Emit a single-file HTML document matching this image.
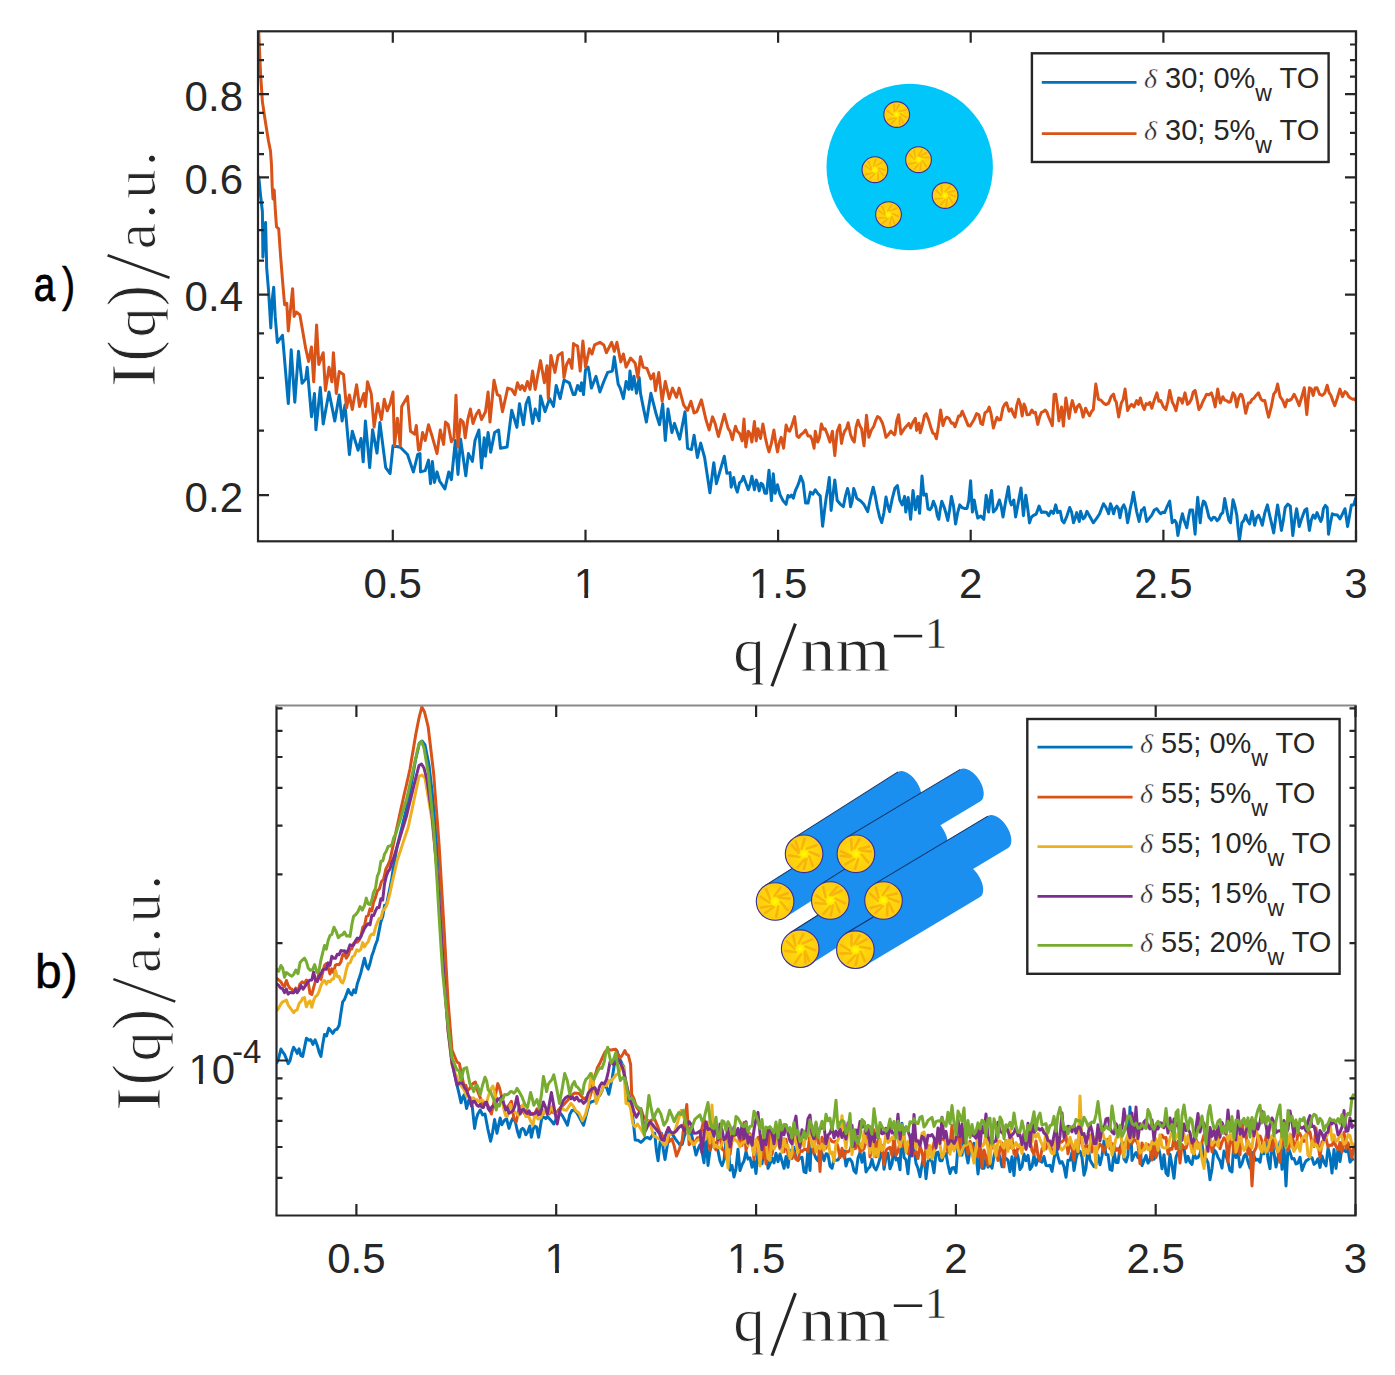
<!DOCTYPE html>
<html><head><meta charset="utf-8"><title>SAXS</title>
<style>
html,body{margin:0;padding:0;background:#fff;overflow:hidden;width:1395px;height:1375px;}
svg{display:block;}
.t{font-family:"Liberation Sans",sans-serif;fill:#262626;}
.s{font-family:"Liberation Serif",serif;fill:#262626;stroke:#fff;stroke-width:0.9px;paint-order:fill;}
.s1{stroke-width:0.3px;}
.p{font-family:"Liberation Sans",sans-serif;fill:#000;}
</style></head><body>
<svg width="1395" height="1375" viewBox="0 0 1395 1375">
<defs>
<radialGradient id="gcore" cx="50%" cy="50%" r="50%">
<stop offset="0" stop-color="#FFF200"/><stop offset="0.55" stop-color="#FFD50A"/><stop offset="1" stop-color="#FCCB12"/>
</radialGradient>
<clipPath id="ca"><rect x="258.0" y="31.3" width="1098.0" height="509.99999999999994"/></clipPath>
<clipPath id="cb"><rect x="276.5" y="705.5" width="1079.0" height="510.0"/></clipPath>
</defs>
<rect width="1395" height="1375" fill="#fff"/>

<!-- ===== plot a ===== -->
<g clip-path="url(#ca)" fill="none" stroke-width="3" stroke-linejoin="round">
<polyline points="257.8,175.5 259.1,180.0 260.5,195.0 262.4,211.5 262.9,257.3 264.2,230.0 265.6,222.4 266.7,268.2 268.5,290.0 270.8,328.0 272.2,300.0 273.7,287.3 275.2,316.4 277.4,342.5 282.5,335.3 288.3,403.6 291.2,349.8 294.8,402.2 298.5,351.3 302.1,383.3 305.7,378.9 307.2,367.3 311.5,416.7 314.5,393.5 315.9,429.8 320.3,387.6 323.2,424.0 329.0,392.0 334.8,421.1 339.2,394.9 342.1,421.1 345.0,405.1 349.4,454.5 352.3,431.3 358.1,450.2 361.0,438.5 363.2,461.8 365.4,421.1 369.7,467.6 372.6,429.8 377.0,453.1 379.9,422.5 385.7,467.6 390.1,473.5 393.0,445.8 400.3,447.3 407.5,454.5 413.4,472.0 417.7,454.5 420.0,453.6 420.5,471.9 425.2,470.6 428.5,460.1 430.5,483.7 432.4,461.4 434.4,482.4 437.0,471.9 439.6,481.0 444.9,488.9 448.8,471.9 451.4,479.7 455.4,440.5 458.0,474.5 460.6,439.2 463.2,457.5 465.8,475.8 468.4,453.6 472.4,461.4 475.0,440.5 478.9,430.0 481.5,468.0 484.2,437.8 485.5,456.2 488.1,432.6 490.7,452.3 494.6,432.6 498.6,430.0 500.5,448.3 507.1,447.0 511.7,410.3 516.9,427.4 519.5,403.8 523.4,424.7 526.1,403.8 528.7,397.3 532.6,423.4 535.2,409.0 539.1,420.8 540.5,395.9 545.0,411.7 549.6,398.6 553.5,406.4 556.2,385.5 560.1,398.6 564.0,380.2 569.3,382.8 573.2,394.6 575.0,394.6 577.6,385.5 580.2,390.7 581.5,382.8 583.5,394.6 585.5,369.8 588.1,367.1 589.4,373.7 591.4,388.1 596.0,376.3 599.9,392.0 603.8,381.5 607.7,372.4 612.3,371.1 614.3,356.7 618.2,384.2 620.2,388.1 623.4,398.6 626.1,381.5 628.7,389.4 630.0,371.1 632.0,389.4 633.9,376.3 636.5,393.3 639.2,377.6 640.5,393.3 643.1,406.4 646.4,422.1 650.9,393.3 656.2,414.3 659.5,424.7 662.7,403.8 665.3,440.5 668.0,409.0 671.9,432.6 674.5,423.4 679.7,439.2 685.0,411.7 687.6,448.3 691.5,449.6 694.1,435.2 697.4,457.5 700.7,443.1 704.6,457.5 709.9,492.8 713.8,462.7 716.4,483.7 724.3,456.2 726.9,473.2 730.0,472.6 731.2,487.2 733.7,477.5 735.5,487.1 737.3,492.1 739.7,482.4 741.5,481.2 743.4,476.3 745.8,482.9 748.3,489.7 750.1,484.6 751.9,476.3 754.4,489.7 756.2,479.9 757.7,483.8 759.2,490.9 761.0,483.3 762.9,484.8 764.8,493.2 766.6,493.3 769.0,470.2 771.4,500.6 773.3,473.8 775.1,493.3 777.5,484.8 780.0,494.6 783.0,500.6 786.1,504.3 787.9,495.5 789.7,497.0 791.5,495.0 793.4,498.2 795.2,491.2 797.0,487.2 798.9,482.6 800.7,476.3 803.1,482.4 805.6,503.1 808.0,503.1 810.4,492.1 812.8,494.2 815.3,489.7 817.8,493.5 820.2,495.8 822.6,526.2 824.5,510.5 826.3,497.0 827.8,488.4 829.3,477.5 831.1,510.4 833.0,494.6 834.8,479.9 837.2,500.6 840.2,504.1 843.3,506.7 845.5,495.9 847.6,488.5 849.1,494.6 850.6,506.7 852.2,500.8 853.7,488.5 855.2,492.6 856.7,498.2 858.5,499.7 860.3,500.6 864.0,504.6 867.7,511.6 870.5,498.0 873.2,487.2 875.4,496.7 877.5,508.0 879.6,516.9 881.7,522.6 883.9,512.8 886.0,497.0 887.8,505.7 889.6,511.6 892.3,498.4 895.0,488.0 897.4,485.6 899.8,500.0 902.2,504.9 904.6,496.4 905.8,512.1 908.2,497.6 910.6,519.3 913.0,490.4 915.4,509.7 917.8,496.4 919.6,513.3 922.0,476.0 923.8,495.2 926.2,494.0 928.0,508.8 929.8,509.7 931.6,507.5 933.4,501.2 935.8,507.3 937.3,515.7 938.8,519.3 940.3,508.9 941.8,501.2 944.2,507.3 946.0,513.3 947.8,520.5 949.6,510.0 951.4,496.4 953.5,505.9 955.6,524.1 957.7,512.6 959.8,504.9 962.2,507.7 964.6,508.5 967.0,508.5 968.8,500.7 970.6,480.8 972.4,512.1 974.2,500.0 976.0,510.1 977.8,518.1 980.8,516.1 983.8,519.3 986.2,495.2 988.6,512.1 990.1,498.2 991.6,490.4 993.4,512.1 996.4,508.5 999.4,500.0 1001.2,506.4 1003.0,516.9 1005.7,501.0 1008.4,486.8 1009.9,500.8 1011.4,504.9 1013.8,500.0 1015.6,516.9 1018.3,502.6 1021.0,488.0 1023.4,515.7 1025.8,495.2 1027.7,508.2 1029.5,522.9 1031.3,517.3 1033.1,515.7 1036.1,514.2 1039.1,506.1 1041.5,512.4 1043.9,512.1 1046.3,512.2 1048.7,515.7 1051.1,511.0 1053.5,513.3 1055.7,504.9 1057.6,512.6 1058.9,511.6 1060.2,511.3 1062.1,520.5 1064.0,522.8 1066.8,516.3 1069.7,507.5 1071.6,512.1 1073.5,522.8 1075.1,518.5 1076.7,512.6 1079.3,521.5 1080.6,511.3 1083.1,518.9 1085.0,517.0 1086.9,511.3 1090.1,517.0 1093.3,522.8 1096.4,518.7 1099.6,513.8 1101.5,508.8 1103.5,503.7 1106.0,507.5 1108.6,513.8 1110.5,503.7 1112.0,507.5 1113.6,513.8 1115.2,508.3 1116.8,506.2 1118.4,508.5 1120.0,517.7 1121.9,508.3 1123.8,504.9 1125.7,509.5 1127.6,522.8 1128.9,516.8 1130.2,508.7 1131.8,501.6 1133.4,492.2 1135.0,501.9 1136.6,511.3 1139.1,521.5 1141.6,510.0 1142.9,509.8 1144.2,507.5 1146.7,521.5 1149.2,518.4 1151.8,515.1 1154.3,510.0 1156.9,508.7 1158.8,511.7 1160.7,513.8 1162.7,512.3 1164.6,512.6 1167.2,506.3 1169.7,501.1 1172.2,522.8 1174.7,520.3 1176.3,522.6 1177.9,535.5 1180.2,523.2 1182.4,513.8 1184.6,521.8 1186.8,527.8 1188.4,517.9 1190.0,510.0 1192.6,510.0 1195.1,534.2 1196.4,513.5 1197.7,497.3 1200.2,522.8 1201.8,507.8 1203.4,501.1 1205.0,502.5 1206.6,507.5 1209.0,517.3 1211.4,520.2 1213.3,517.3 1215.2,517.7 1217.1,520.8 1219.0,518.9 1220.9,514.4 1222.8,512.6 1224.7,498.6 1227.3,512.6 1228.9,520.2 1230.5,522.8 1233.0,499.8 1234.9,506.0 1236.8,515.1 1238.1,528.7 1239.4,540.6 1241.9,522.8 1243.8,520.5 1245.7,515.1 1247.7,521.0 1249.6,524.0 1252.1,511.3 1254.6,525.3 1256.5,517.8 1258.5,515.1 1260.4,519.3 1262.3,525.3 1264.8,512.9 1267.4,504.9 1269.9,516.4 1271.8,524.3 1273.7,532.9 1275.7,518.0 1277.6,504.9 1279.5,517.0 1281.4,530.4 1283.3,520.4 1285.2,507.5 1287.8,504.2 1290.3,506.2 1292.8,535.5 1294.7,520.1 1296.6,508.7 1297.9,516.2 1299.2,526.6 1301.1,520.2 1303.0,515.1 1304.9,509.9 1306.8,508.7 1308.1,520.8 1309.4,530.4 1311.3,520.0 1313.2,515.1 1315.1,518.3 1317.0,512.6 1318.9,517.2 1320.8,521.5 1322.1,518.0 1323.4,508.7 1325.3,505.4 1327.2,507.5 1328.5,534.2 1330.4,523.2 1332.3,513.8 1334.8,514.8 1337.4,515.1 1340.0,518.9 1342.5,513.8 1345.0,508.7 1347.6,526.6 1349.5,516.1 1351.4,504.9 1353.7,504.9 1356.0,497.3" stroke="#0072BD"/>
<polyline points="258.7,31.5 259.5,50.0 260.6,74.4 262.4,101.6 264.5,116.0 266.7,130.0 268.5,141.0 270.5,151.0 271.5,165.0 272.2,186.4 273.0,199.0 274.2,190.0 275.3,210.0 276.5,226.7 278.7,228.9 280.5,255.0 282.5,280.0 284.6,304.7 286.8,303.3 288.3,330.9 292.6,288.7 294.1,316.4 296.3,312.0 299.9,314.9 305.7,348.4 308.6,361.5 311.5,346.9 313.7,381.8 316.6,325.1 318.8,364.4 323.2,352.7 325.4,390.5 329.0,367.3 331.9,381.8 333.4,352.7 336.3,393.5 339.2,371.6 343.5,374.5 346.5,408.0 349.4,394.9 352.3,409.5 356.6,384.7 359.5,406.5 363.9,393.5 365.4,406.5 367.5,381.8 371.2,393.5 374.1,426.9 377.7,403.6 381.4,419.6 384.3,399.3 387.2,410.9 390.1,403.6 393.0,392.0 394.5,445.8 397.4,418.2 400.3,445.8 401.7,406.5 407.5,396.4 410.5,431.3 414.8,434.2 416.3,425.5 418.5,450.2 420.0,449.6 422.6,432.6 425.2,440.5 428.5,424.7 431.8,435.2 437.0,453.6 440.3,430.0 443.6,444.4 445.5,422.1 448.2,424.7 451.4,441.8 454.0,437.8 456.0,395.3 458.0,447.0 460.6,419.5 463.2,422.1 465.2,437.8 467.8,419.5 470.4,409.0 473.0,423.4 476.3,414.3 478.9,410.3 481.5,419.5 485.5,411.7 488.1,392.0 490.0,422.1 494.0,380.2 497.3,394.6 499.9,395.9 502.5,411.7 507.7,388.1 511.7,389.4 514.9,394.6 517.5,382.8 520.2,389.4 522.1,385.5 524.7,390.7 527.4,381.5 530.0,389.4 532.6,371.1 535.2,389.4 537.8,375.0 540.5,360.6 544.4,382.8 547.0,365.8 548.3,398.6 550.9,355.4 554.9,372.4 558.1,355.4 562.1,352.7 564.0,377.6 566.6,364.5 569.3,359.3 571.9,368.4 573.5,343.6 575.0,344.9 577.6,346.2 580.2,371.1 582.9,340.9 585.5,367.1 589.4,348.8 592.0,354.0 594.6,344.9 599.9,342.3 603.8,344.9 606.4,352.7 611.7,342.3 614.3,351.4 616.9,342.3 620.8,361.9 623.4,354.0 626.1,367.1 630.6,358.0 635.2,363.2 637.8,377.6 640.5,356.7 643.1,367.1 647.0,368.4 650.9,378.9 653.6,373.7 655.5,390.7 658.8,372.4 662.1,401.2 665.3,381.5 669.3,398.6 672.5,388.1 676.5,397.3 679.1,388.1 683.7,405.1 687.6,410.3 690.9,401.2 694.1,413.0 696.8,411.7 701.4,399.9 705.9,419.5 709.2,430.0 712.5,416.9 715.1,423.4 718.4,436.5 724.3,414.3 728.2,428.7 730.0,431.2 732.4,439.7 734.0,432.0 735.5,426.3 737.3,431.2 739.7,433.6 742.2,440.9 744.0,419.0 745.8,447.0 748.3,431.2 750.1,433.6 751.9,442.1 754.4,421.4 756.2,440.9 758.0,428.7 760.5,438.5 762.9,423.9 765.3,437.3 767.1,445.3 769.0,451.9 771.4,443.4 773.9,430.0 775.7,442.5 777.5,451.9 779.4,442.2 781.2,437.3 783.6,448.2 786.1,425.1 787.9,430.1 789.7,431.2 792.2,424.5 794.6,416.6 797.0,436.1 798.9,437.4 800.7,434.8 803.2,433.1 805.6,430.0 808.0,436.0 810.4,436.1 812.2,439.8 814.1,448.2 815.3,431.2 817.7,442.1 819.5,437.4 821.4,423.9 823.2,429.3 825.1,428.7 827.5,434.8 829.9,442.1 832.4,431.2 834.8,455.6 837.2,431.2 839.7,425.1 841.5,443.4 843.0,435.8 844.6,431.2 846.4,428.6 848.2,422.7 850.6,434.8 852.5,439.6 854.3,442.1 856.1,426.8 858.0,420.2 859.8,425.9 861.6,428.7 864.0,445.8 866.5,415.3 868.9,437.3 871.3,430.3 873.8,426.3 875.6,420.8 877.5,416.6 879.9,418.1 882.3,422.7 884.1,428.9 886.0,437.3 888.5,434.4 890.9,431.2 892.7,433.2 894.5,434.8 895.0,434.0 896.8,420.5 898.6,414.8 901.0,434.0 904.0,429.1 907.0,425.6 908.8,423.4 910.6,428.0 913.0,422.0 915.4,418.4 916.6,430.4 919.0,423.2 920.2,432.8 922.6,424.4 924.4,415.8 926.2,413.6 928.6,419.9 931.0,428.0 932.8,433.1 934.6,434.0 936.4,438.8 938.5,426.0 940.6,410.0 943.0,425.6 944.8,419.9 946.6,417.2 949.0,418.4 951.4,423.2 953.2,422.9 955.0,426.8 956.8,421.8 958.6,416.0 960.4,415.9 962.2,411.2 964.0,415.4 965.8,419.6 968.2,425.6 970.0,426.1 971.8,423.2 974.2,419.2 976.6,413.6 979.0,414.8 980.8,423.4 982.6,424.4 985.0,412.8 987.4,411.2 989.2,407.1 991.0,413.6 993.4,428.0 995.2,422.1 997.0,417.2 998.8,420.0 1000.6,419.6 1003.0,407.6 1004.8,404.2 1006.6,402.8 1009.0,411.2 1011.4,408.8 1013.2,414.1 1015.0,417.2 1016.8,405.3 1018.6,399.2 1020.4,404.5 1022.2,416.0 1024.0,404.0 1025.5,407.6 1027.0,414.8 1029.5,414.5 1031.9,410.0 1033.7,412.9 1035.4,412.4 1037.8,424.4 1039.7,416.6 1041.5,412.4 1043.3,411.7 1045.1,410.0 1046.9,412.0 1048.7,417.2 1050.5,421.5 1052.3,425.6 1054.1,394.4 1055.7,394.2 1057.3,404.8 1058.9,420.9 1061.5,406.9 1063.4,426.0 1065.9,398.0 1067.5,408.1 1069.1,418.4 1070.7,407.7 1072.3,400.6 1073.9,406.2 1075.5,412.0 1077.4,406.6 1079.3,404.4 1081.2,408.7 1083.1,417.1 1085.6,408.2 1087.5,412.3 1089.5,415.8 1091.4,411.8 1093.3,409.5 1095.8,384.0 1097.1,391.7 1098.4,399.3 1101.0,400.2 1103.5,403.1 1106.0,404.6 1108.6,403.1 1111.1,396.6 1113.6,394.2 1114.9,399.9 1116.2,401.8 1118.7,417.1 1121.3,403.1 1123.2,399.4 1125.1,389.1 1127.6,410.7 1129.5,406.9 1131.5,404.4 1134.0,406.9 1136.6,400.6 1138.5,404.4 1140.4,398.0 1142.3,404.9 1144.2,409.5 1146.1,403.6 1148.0,404.4 1149.9,402.3 1151.8,408.2 1154.3,400.1 1156.9,392.9 1158.8,401.2 1160.7,400.6 1163.2,406.5 1165.8,409.5 1167.8,401.8 1169.7,390.4 1172.2,401.8 1174.1,405.6 1176.0,410.7 1178.6,398.0 1180.5,398.7 1182.4,403.1 1185.0,392.9 1187.5,404.4 1189.4,402.8 1191.3,399.3 1193.2,392.1 1195.1,390.4 1197.0,399.5 1198.9,409.5 1200.8,406.9 1202.8,401.8 1204.7,398.1 1206.6,394.2 1209.0,394.9 1211.4,392.9 1213.3,398.8 1215.2,406.9 1217.7,389.1 1220.3,403.1 1222.8,396.7 1224.7,400.1 1226.6,400.6 1228.5,402.2 1230.5,401.8 1233.0,392.9 1234.9,395.8 1236.8,406.9 1238.7,397.9 1240.6,394.2 1241.9,394.9 1243.2,399.3 1245.7,413.3 1248.3,403.1 1250.2,402.8 1252.1,399.3 1254.0,398.2 1255.9,395.5 1258.5,392.9 1261.0,399.3 1262.9,400.7 1264.8,400.6 1266.7,409.3 1268.6,417.1 1271.2,407.2 1273.7,394.2 1275.7,391.5 1277.6,384.0 1280.1,396.7 1282.7,400.4 1285.2,406.9 1287.1,399.8 1289.0,400.6 1291.5,399.1 1294.1,394.2 1296.7,399.4 1299.2,405.6 1301.8,396.8 1304.3,387.8 1306.8,414.6 1308.1,400.8 1309.4,387.8 1311.3,388.9 1313.2,395.5 1315.1,387.9 1317.0,387.8 1319.5,394.1 1322.1,395.5 1324.7,393.1 1327.2,385.3 1329.1,392.7 1331.0,395.5 1332.9,401.1 1334.8,405.6 1337.3,398.0 1339.9,389.1 1342.5,396.7 1345.0,391.6 1346.9,393.1 1348.8,396.7 1350.8,398.2 1352.7,399.3 1354.3,398.9 1356.0,400.6" stroke="#D95319"/>
</g>
<g fill="none" stroke="#262626" stroke-width="2.2">
<rect x="258.0" y="31.3" width="1098.0" height="509.99999999999994"/>
<path d="M392.8,541.3V529.8M392.8,31.3V42.8M585.5,541.3V529.8M585.5,31.3V42.8M778.1,541.3V529.8M778.1,31.3V42.8M970.7,541.3V529.8M970.7,31.3V42.8M1163.4,541.3V529.8M1163.4,31.3V42.8M1356.0,541.3V529.8M1356.0,31.3V42.8M258.0,495.1H269.0M1356.0,495.1H1345.0M258.0,294.6H269.0M1356.0,294.6H1345.0M258.0,177.4H269.0M1356.0,177.4H1345.0M258.0,94.2H269.0M1356.0,94.2H1345.0M258.0,430.6H264.0M1356.0,430.6H1350.0M258.0,377.8H264.0M1356.0,377.8H1350.0M258.0,333.3H264.0M1356.0,333.3H1350.0M258.0,260.6H264.0M1356.0,260.6H1350.0M258.0,230.1H264.0M1356.0,230.1H1350.0M258.0,202.5H264.0M1356.0,202.5H1350.0M258.0,154.2H264.0M1356.0,154.2H1350.0M258.0,132.8H264.0M1356.0,132.8H1350.0M258.0,112.9H264.0M1356.0,112.9H1350.0M258.0,76.7H264.0M1356.0,76.7H1350.0M258.0,60.1H264.0M1356.0,60.1H1350.0M258.0,44.5H264.0M1356.0,44.5H1350.0"/>
</g>
<g class="t" font-size="42" text-anchor="end">
<text x="243" y="110.8">0.8</text>
<text x="243" y="193.8">0.6</text>
<text x="243" y="311.1">0.4</text>
<text x="243" y="512">0.2</text>
</g>
<g class="t" font-size="42" text-anchor="middle">
<text x="392.8" y="597.6">0.5</text>
<text x="585.5" y="597.6">1</text>
<text x="778.1" y="597.6">1.5</text>
<text x="970.7" y="597.6">2</text>
<text x="1163.4" y="597.6">2.5</text>
<text x="1356.0" y="597.6">3</text>
</g>
<text class="s" font-size="63" x="733.2" y="671.4">q</text>
<path d="M795.4,623.6L771.9,686.2" stroke="#262626" stroke-width="3.1"/>
<text class="s" font-size="63" x="800.2" y="671.4" textLength="90" lengthAdjust="spacingAndGlyphs">nm</text>
<rect x="893.8" y="634.8" width="28.4" height="2.6" fill="#262626"/>
<text class="s s1" font-size="44" x="925" y="648">1</text>
<g transform="translate(154.5,0) rotate(-90)"><text class="s" font-size="64" text-anchor="middle" transform="translate(-375.3,0) scale(1.12,1.0)">I</text><text class="s" font-size="64" text-anchor="middle" transform="translate(-350.9,0) scale(1.0,1.08)">(</text><text class="s" font-size="59" text-anchor="middle" transform="translate(-322.6,0) scale(1.0,1.0)">q</text><text class="s" font-size="64" text-anchor="middle" transform="translate(-295.6,0) scale(1.0,1.08)">)</text><text class="s" font-size="59" text-anchor="middle" transform="translate(-236.2,0) scale(1.0,1.0)">a</text><text class="s" font-size="59" text-anchor="middle" transform="translate(-211.3,0) scale(1.0,1.0)">.</text><text class="s" font-size="59" text-anchor="middle" transform="translate(-184.0,0) scale(1.0,1.0)">u</text><text class="s" font-size="59" text-anchor="middle" transform="translate(-158.5,0) scale(1.0,1.0)">.</text></g><path d="M169.5,277.8L107.6,255.3" stroke="#262626" stroke-width="2.6"/>
<text class="p" font-size="48" transform="translate(33.8,301) scale(0.8,1)" stroke="#000" stroke-width="0.9">a</text><text class="p" font-size="48" transform="translate(62,301) scale(0.82,1)" stroke="#000" stroke-width="0.6">)</text>
<!-- legend a -->
<rect x="1031.9" y="53.3" width="296.7" height="108.7" fill="#fff" stroke="#262626" stroke-width="2.4"/>
<path d="M1041.8,82.4H1136.5" stroke="#0072BD" stroke-width="2.8"/>
<path d="M1041.8,133.6H1136.5" stroke="#D95319" stroke-width="2.8"/>
<text class="t" font-size="29" x="1144" y="88.3"><tspan font-family="Liberation Serif" font-style="italic" font-size="28" stroke="#fff" stroke-width="0.4">&#948;</tspan> 30; 0%<tspan font-size="23" dy="13">w</tspan><tspan dy="-13"> TO</tspan></text>
<text class="t" font-size="29" x="1144" y="139.5"><tspan font-family="Liberation Serif" font-style="italic" font-size="28" stroke="#fff" stroke-width="0.4">&#948;</tspan> 30; 5%<tspan font-size="23" dy="13">w</tspan><tspan dy="-13"> TO</tspan></text>
<circle cx="909.7" cy="167" r="83.2" fill="#00C6FA"/><circle cx="896.7" cy="114.5" r="12.9" fill="url(#gcore)"/><path d="M900.3,116.0L903.1,122.6M899.5,117.2L899.8,124.3M896.5,118.4L891.4,123.4M894.8,117.8L887.9,119.9M892.9,115.0L887.1,110.7M894.1,111.6L894.3,104.5M895.7,110.8L899.1,104.5M898.9,111.3L906.0,109.9M900.5,113.7L906.6,117.4" stroke="#F39C12" stroke-width="1.8" stroke-linecap="round" opacity="0.6" fill="none"/><circle cx="896.7" cy="114.5" r="1.5" fill="#FFF600"/><circle cx="896.7" cy="114.5" r="12.9" fill="none" stroke="#3b2f9a" stroke-width="1.1"/><circle cx="874.9" cy="169.7" r="12.9" fill="url(#gcore)"/><path d="M878.8,170.0L883.6,175.3M877.8,172.3L878.3,179.4M874.9,173.6L869.9,178.7M872.8,172.9L865.8,174.5M871.0,170.1L865.4,165.6M871.3,168.2L868.4,161.7M873.4,166.1L876.0,159.4M875.9,166.0L882.0,162.2M878.4,168.0L885.2,170.2" stroke="#F39C12" stroke-width="1.8" stroke-linecap="round" opacity="0.6" fill="none"/><circle cx="874.9" cy="169.7" r="1.5" fill="#FFF600"/><circle cx="874.9" cy="169.7" r="12.9" fill="none" stroke="#3b2f9a" stroke-width="1.1"/><circle cx="918.5" cy="159.7" r="12.9" fill="url(#gcore)"/><path d="M922.3,160.6L926.2,166.6M920.9,162.7L920.3,169.9M918.8,163.6L914.3,169.1M916.1,162.7L909.0,163.8M914.6,159.5L909.7,154.3M915.4,157.4L914.1,150.3M917.9,155.9L922.0,150.0M919.8,156.1L926.3,152.9M921.5,157.2L928.6,157.7" stroke="#F39C12" stroke-width="1.8" stroke-linecap="round" opacity="0.6" fill="none"/><circle cx="918.5" cy="159.7" r="1.5" fill="#FFF600"/><circle cx="918.5" cy="159.7" r="12.9" fill="none" stroke="#3b2f9a" stroke-width="1.1"/><circle cx="945.1" cy="195.5" r="12.9" fill="url(#gcore)"/><path d="M948.8,196.6L952.4,202.8M947.3,198.7L946.2,205.8M945.3,199.4L940.7,204.8M942.5,198.4L935.4,198.9M941.2,195.3L936.2,190.2M942.1,193.0L941.4,185.9M945.0,191.6L949.8,186.3M947.4,192.4L954.4,191.0M948.7,194.0L955.4,196.5" stroke="#F39C12" stroke-width="1.8" stroke-linecap="round" opacity="0.6" fill="none"/><circle cx="945.1" cy="195.5" r="1.5" fill="#FFF600"/><circle cx="945.1" cy="195.5" r="12.9" fill="none" stroke="#3b2f9a" stroke-width="1.1"/><circle cx="888.5" cy="214.6" r="12.9" fill="url(#gcore)"/><path d="M891.9,216.4L894.2,223.2M890.8,217.7L889.8,224.8M888.1,218.5L882.7,223.2M885.9,217.5L878.8,218.1M884.7,215.1L878.9,210.8M884.9,213.1L882.1,206.5M887.8,210.8L891.8,204.8M890.0,211.0L896.5,208.1M892.2,213.4L898.6,216.6" stroke="#F39C12" stroke-width="1.8" stroke-linecap="round" opacity="0.6" fill="none"/><circle cx="888.5" cy="214.6" r="1.5" fill="#FFF600"/><circle cx="888.5" cy="214.6" r="12.9" fill="none" stroke="#3b2f9a" stroke-width="1.1"/>
<!-- ===== plot b ===== -->
<g clip-path="url(#cb)" fill="none" stroke-width="3" stroke-linejoin="round">
<polyline points="276.5,1063.6 278.7,1058.1 280.9,1049.0 282.7,1052.0 284.5,1054.4 286.4,1058.8 288.2,1063.6 290.0,1060.7 291.8,1052.8 293.6,1047.3 295.4,1049.8 297.2,1053.4 299.1,1048.8 300.9,1055.6 302.7,1056.4 304.5,1047.6 306.4,1038.2 308.6,1040.2 310.8,1039.7 312.9,1044.4 315.1,1039.9 317.3,1045.5 319.1,1052.1 320.9,1056.4 322.7,1044.6 324.5,1034.5 326.6,1035.9 328.7,1028.3 330.8,1030.8 332.8,1033.4 334.9,1029.9 337.0,1029.3 339.1,1025.5 340.9,1013.2 342.7,1001.8 344.5,999.5 346.4,994.5 348.2,989.5 350.0,993.1 351.9,994.8 353.7,989.9 355.5,992.7 357.3,983.7 359.1,978.6 360.9,972.7 362.7,965.2 364.5,958.2 366.4,966.1 368.2,969.1 370.0,963.5 371.8,956.0 373.6,950.9 375.4,945.0 377.3,940.3 379.1,930.9 380.9,921.8 382.8,916.2 384.6,905.2 386.4,905.5 388.2,896.4 390.0,887.9 391.8,878.1 393.7,865.9 395.5,855.7 397.3,845.5 399.5,836.8 401.7,828.0 403.8,819.3 406.0,810.5 408.2,801.8 410.0,791.3 411.9,780.9 413.7,770.5 415.5,760.0 417.5,751.5 419.5,743.0 422.0,741.0 423.5,743.0 425.0,745.0 427.0,755.0 429.0,765.0 431.0,782.5 433.0,800.0 435.0,825.0 437.0,850.0 439.0,885.0 441.0,920.0 442.5,947.5 444.0,975.0 446.1,1001.0 448.2,1027.0 450.1,1044.5 452.0,1062.0 457.0,1085.2 459.0,1093.5 461.0,1102.8 462.6,1097.6 464.2,1094.8 466.6,1108.4 469.0,1099.6 470.6,1103.3 472.2,1106.0 474.6,1128.4 476.2,1119.0 477.8,1114.0 480.2,1110.0 482.6,1114.9 485.0,1114.0 487.8,1128.8 490.6,1141.2 492.6,1132.3 494.6,1119.6 497.0,1133.2 498.6,1125.1 500.2,1118.0 501.8,1124.7 503.4,1122.0 505.0,1119.7 506.6,1118.8 509.0,1128.4 511.0,1122.0 513.0,1118.0 515.4,1122.0 517.4,1131.2 519.4,1137.2 521.0,1129.6 522.6,1128.4 524.2,1129.9 525.8,1134.8 527.8,1131.8 529.8,1126.0 531.4,1137.2 533.0,1129.7 534.6,1126.0 536.6,1127.1 538.6,1137.2 540.2,1127.4 541.8,1118.0 544.2,1117.2 545.8,1118.6 547.4,1116.4 550.6,1119.9 553.8,1124.0 556.0,1119.3 558.3,1110.3 562.9,1116.6 567.5,1125.2 569.8,1114.4 572.1,1110.3 574.4,1110.2 576.7,1112.6 580.2,1118.9 583.6,1125.2 586.5,1113.6 589.3,1103.4 591.6,1101.7 593.9,1101.1 596.8,1098.5 599.6,1095.4 601.9,1091.3 604.2,1083.9 606.5,1087.2 608.8,1094.2 610.5,1086.1 612.2,1078.2 614.5,1063.4 616.8,1050.6 618.5,1055.2 620.3,1059.8 622.0,1063.6 623.7,1066.7 625.5,1084.0 627.2,1098.8 629.5,1102.9 631.7,1110.3 633.5,1123.3 635.2,1140.1 638.0,1140.2 640.9,1142.4 643.2,1140.3 645.5,1137.8 647.8,1137.6 650.1,1138.9 652.4,1135.0 654.7,1133.2 656.4,1150.4 658.1,1160.7 659.8,1144.2 661.5,1133.2 663.2,1149.0 665.0,1159.6 667.3,1145.2 669.6,1130.9 672.5,1134.4 675.3,1138.9 677.6,1141.9 679.9,1144.7 682.2,1144.5 684.5,1135.5 687.4,1129.3 690.2,1128.6 693.1,1141.4 696.0,1155.0 698.0,1149.2 700.0,1144.7 702.0,1151.8 704.0,1162.7 706.0,1133.6 708.0,1165.4 710.0,1150.3 712.0,1144.1 714.0,1144.6 716.0,1142.7 718.0,1150.9 720.0,1161.0 722.0,1165.6 724.0,1160.3 726.0,1139.9 728.0,1141.6 730.0,1170.2 732.0,1165.5 734.0,1177.0 736.0,1168.8 738.0,1149.2 740.0,1170.6 742.0,1164.7 744.0,1161.0 746.0,1151.7 748.0,1159.1 750.0,1157.8 752.0,1167.2 754.0,1160.3 756.0,1173.4 758.0,1152.2 760.0,1163.5 762.0,1163.7 764.0,1151.5 766.0,1148.7 768.0,1168.4 770.0,1164.0 772.0,1157.9 774.0,1162.9 776.0,1153.3 778.0,1161.6 780.0,1154.0 782.0,1161.2 784.0,1168.4 786.0,1156.5 788.0,1167.2 790.0,1150.3 792.0,1157.0 794.0,1147.3 796.0,1158.7 798.0,1160.4 800.0,1157.9 802.0,1157.3 804.0,1171.8 806.0,1172.6 808.0,1148.8 810.0,1170.4 812.0,1125.7 814.0,1153.2 816.0,1158.3 818.0,1160.9 820.0,1150.5 822.0,1153.4 824.0,1160.7 826.0,1153.8 828.0,1154.2 830.0,1166.0 832.0,1168.4 834.0,1159.5 836.0,1160.3 838.0,1160.0 840.0,1156.1 842.0,1155.6 844.0,1150.9 846.0,1166.1 848.0,1159.5 850.0,1159.0 852.0,1162.1 854.0,1170.8 856.0,1173.1 858.0,1157.9 860.0,1152.4 862.0,1162.2 864.0,1152.8 866.0,1171.9 868.0,1168.8 870.0,1166.7 872.0,1159.4 874.0,1167.2 876.0,1170.0 878.0,1165.1 880.0,1158.1 882.0,1145.5 884.0,1169.2 886.0,1157.5 888.0,1153.1 890.0,1168.7 892.0,1163.8 894.0,1148.0 896.0,1159.9 898.0,1158.4 900.0,1169.8 902.0,1123.3 904.0,1157.4 906.0,1159.7 908.0,1173.7 910.0,1151.2 912.0,1134.5 914.0,1148.6 916.0,1163.4 918.0,1168.3 920.0,1176.7 922.0,1164.7 924.0,1153.9 926.0,1178.7 928.0,1161.1 930.0,1159.4 932.0,1161.4 934.0,1172.7 936.0,1153.1 938.0,1152.1 940.0,1160.7 942.0,1160.7 944.0,1154.0 946.0,1153.5 948.0,1164.8 950.0,1173.5 952.0,1167.9 954.0,1167.6 956.0,1172.7 958.0,1143.6 960.0,1147.9 962.0,1155.2 964.0,1137.9 966.0,1152.7 968.0,1163.0 970.0,1150.1 972.0,1152.9 974.0,1143.3 976.0,1153.0 978.0,1173.9 980.0,1156.9 982.0,1168.2 984.0,1168.2 986.0,1157.4 988.0,1167.1 990.0,1163.8 992.0,1168.2 994.0,1156.2 996.0,1149.0 998.0,1152.8 1000.0,1157.0 1002.0,1166.8 1004.0,1160.1 1006.0,1158.4 1008.0,1160.3 1010.0,1171.8 1012.0,1156.7 1014.0,1175.5 1016.0,1150.8 1018.0,1156.5 1020.0,1169.5 1022.0,1166.4 1024.0,1154.1 1026.0,1160.8 1028.0,1155.3 1030.0,1169.4 1032.0,1166.5 1034.0,1155.2 1036.0,1165.2 1038.0,1158.3 1040.0,1161.0 1042.0,1162.2 1044.0,1156.5 1046.0,1165.4 1048.0,1165.7 1050.0,1165.3 1052.0,1171.4 1054.0,1159.0 1056.0,1148.1 1058.0,1157.0 1060.0,1163.2 1062.0,1161.6 1064.0,1166.6 1066.0,1177.3 1068.0,1160.3 1070.0,1160.3 1072.0,1152.4 1074.0,1170.6 1076.0,1158.9 1078.0,1151.5 1080.0,1151.2 1082.0,1157.4 1084.0,1175.2 1086.0,1168.1 1088.0,1145.9 1090.0,1160.0 1092.0,1163.5 1094.0,1166.7 1096.0,1164.1 1098.0,1155.3 1100.0,1164.7 1102.0,1156.0 1104.0,1140.8 1106.0,1154.6 1108.0,1154.7 1110.0,1169.5 1112.0,1170.4 1114.0,1151.5 1116.0,1162.4 1118.0,1162.6 1120.0,1147.9 1122.0,1142.3 1124.0,1158.9 1126.0,1162.0 1128.0,1155.4 1130.0,1107.0 1132.0,1160.4 1134.0,1155.5 1136.0,1152.6 1138.0,1157.7 1140.0,1150.4 1142.0,1165.6 1144.0,1160.7 1146.0,1155.5 1148.0,1163.1 1150.0,1160.2 1152.0,1146.8 1154.0,1159.2 1156.0,1156.3 1158.0,1144.8 1160.0,1154.5 1162.0,1168.8 1164.0,1154.8 1166.0,1173.0 1168.0,1175.6 1170.0,1154.2 1172.0,1165.3 1174.0,1178.2 1176.0,1157.3 1178.0,1152.1 1180.0,1151.8 1182.0,1147.8 1184.0,1148.0 1186.0,1162.0 1188.0,1156.4 1190.0,1162.3 1192.0,1164.5 1194.0,1153.2 1196.0,1158.3 1198.0,1157.6 1200.0,1154.0 1202.0,1143.4 1204.0,1162.8 1206.0,1158.7 1208.0,1162.9 1210.0,1179.7 1212.0,1169.0 1214.0,1149.8 1216.0,1152.1 1218.0,1157.4 1220.0,1160.8 1222.0,1168.1 1224.0,1151.0 1226.0,1155.7 1228.0,1161.8 1230.0,1170.6 1232.0,1172.0 1234.0,1139.6 1236.0,1157.6 1238.0,1152.2 1240.0,1167.1 1242.0,1163.4 1244.0,1156.2 1246.0,1153.8 1248.0,1162.0 1250.0,1168.1 1252.0,1152.4 1254.0,1156.3 1256.0,1160.2 1258.0,1159.3 1260.0,1162.2 1262.0,1150.1 1264.0,1153.7 1266.0,1140.2 1268.0,1159.5 1270.0,1168.6 1272.0,1140.5 1274.0,1153.3 1276.0,1167.0 1278.0,1157.6 1280.0,1141.8 1282.0,1169.3 1284.0,1146.0 1286.0,1185.9 1288.0,1147.2 1290.0,1152.4 1292.0,1158.9 1294.0,1158.5 1296.0,1164.0 1298.0,1163.1 1300.0,1157.2 1302.0,1170.4 1304.0,1164.9 1306.0,1160.9 1308.0,1159.7 1310.0,1157.6 1312.0,1157.7 1314.0,1164.4 1316.0,1162.6 1318.0,1158.7 1320.0,1167.4 1322.0,1155.9 1324.0,1162.2 1326.0,1165.9 1328.0,1148.1 1330.0,1155.8 1332.0,1173.1 1334.0,1149.5 1336.0,1168.4 1338.0,1148.5 1340.0,1161.6 1342.0,1147.4 1344.0,1150.5 1346.0,1151.6 1348.0,1149.1 1350.0,1162.1 1352.0,1159.5 1354.0,1158.8" stroke="#0072BD"/>
<polyline points="276.5,978.2 278.7,979.9 280.9,981.8 282.7,985.1 284.5,986.5 286.4,980.5 288.2,985.5 290.0,988.4 291.8,989.2 293.6,992.7 295.7,988.0 297.9,991.1 300.0,984.0 302.1,981.9 304.3,983.2 306.4,980.0 308.2,982.4 310.0,993.5 311.8,994.5 313.6,987.6 315.5,981.1 317.3,980.0 319.1,972.3 320.9,979.5 322.7,972.4 324.5,965.5 326.3,963.5 328.1,967.2 330.0,974.0 331.8,968.8 333.6,972.7 335.4,965.2 337.2,964.4 339.1,964.8 340.9,961.9 342.7,954.5 344.5,953.7 346.3,958.2 348.2,955.3 350.0,949.5 351.8,949.1 353.6,943.4 355.5,941.8 357.3,942.2 359.1,940.3 360.9,936.4 362.7,927.5 364.6,925.2 366.4,916.4 368.2,915.7 370.0,908.9 371.8,910.9 373.6,902.1 375.5,897.4 377.3,891.0 379.4,888.9 381.5,881.6 383.6,879.1 385.8,869.3 387.9,865.2 390.0,860.0 392.2,849.8 394.4,839.6 396.5,829.4 398.7,819.2 400.9,809.0 402.7,801.0 404.5,793.0 406.4,785.0 408.2,777.0 410.0,769.0 411.8,758.0 413.7,747.0 415.5,736.0 417.2,727.0 419.0,718.0 421.8,707.0 424.5,712.0 426.4,719.5 428.2,727.0 430.0,742.3 431.8,757.7 433.6,773.0 435.4,797.0 437.3,821.0 439.1,845.0 440.9,875.3 442.7,905.7 444.5,936.0 446.2,968.0 448.0,1000.0 450.0,1025.0 452.0,1050.0 457.0,1062.0 459.4,1063.6 461.8,1075.6 464.2,1086.8 465.8,1085.2 467.4,1090.8 469.8,1088.4 471.4,1085.1 473.0,1083.6 475.4,1082.0 477.8,1091.6 479.4,1095.6 481.0,1099.6 483.0,1104.1 485.0,1104.4 486.6,1103.2 488.2,1106.0 489.8,1109.8 491.4,1114.0 493.0,1106.4 494.6,1099.6 496.2,1091.3 497.8,1083.6 499.4,1087.5 501.0,1094.0 502.6,1101.4 504.2,1107.6 506.2,1107.2 508.2,1106.0 509.8,1104.0 511.4,1101.2 513.8,1118.0 516.2,1122.0 517.8,1114.3 519.4,1106.0 521.8,1110.8 523.4,1112.1 525.0,1114.0 526.6,1110.5 528.2,1115.6 530.2,1114.4 532.2,1113.2 533.8,1115.4 535.4,1112.4 537.0,1108.8 538.6,1114.0 541.0,1109.2 543.0,1114.0 545.0,1112.4 547.0,1110.8 549.0,1114.0 551.0,1111.5 553.0,1112.6 556.5,1112.9 560.0,1108.0 564.0,1104.3 568.0,1100.0 571.2,1095.7 574.4,1093.1 579.0,1093.5 583.6,1098.8 586.5,1097.4 589.3,1098.8 591.6,1091.0 593.9,1078.2 595.6,1073.8 597.3,1067.8 599.6,1063.8 601.9,1058.7 605.3,1051.5 608.8,1049.5 611.1,1050.1 613.4,1049.5 615.7,1049.2 618.0,1055.2 619.7,1057.6 621.4,1056.4 623.1,1053.8 624.9,1050.6 626.6,1054.4 628.3,1055.2 630.6,1064.4 631.7,1094.2 634.0,1098.8 636.3,1106.7 638.6,1110.3 640.9,1108.7 643.2,1116.0 646.0,1118.9 648.9,1121.7 651.8,1120.0 654.7,1119.4 657.5,1125.8 660.3,1133.2 663.2,1136.2 666.1,1142.4 669.0,1141.7 671.9,1138.9 674.2,1145.9 676.5,1156.1 679.4,1149.0 682.2,1140.1 684.5,1120.7 686.8,1104.5 689.1,1144.7 692.0,1141.4 694.8,1142.4 697.4,1137.8 700.0,1138.0 702.0,1127.8 704.0,1118.7 706.0,1129.1 708.0,1134.5 710.0,1150.4 712.0,1127.8 714.0,1147.2 716.0,1149.9 718.0,1138.0 720.0,1135.7 722.0,1149.1 724.0,1150.7 726.0,1158.1 728.0,1148.9 730.0,1154.5 732.0,1139.4 734.0,1136.5 736.0,1130.5 738.0,1135.0 740.0,1141.3 742.0,1145.5 744.0,1122.4 746.0,1150.2 748.0,1143.4 750.0,1133.6 752.0,1138.4 754.0,1159.4 756.0,1145.5 758.0,1137.5 760.0,1137.2 762.0,1158.1 764.0,1140.0 766.0,1164.0 768.0,1155.1 770.0,1127.0 772.0,1154.6 774.0,1143.0 776.0,1136.4 778.0,1140.5 780.0,1148.8 782.0,1147.5 784.0,1151.7 786.0,1139.3 788.0,1154.3 790.0,1156.0 792.0,1158.6 794.0,1152.3 796.0,1159.1 798.0,1160.6 800.0,1150.2 802.0,1151.6 804.0,1149.4 806.0,1149.2 808.0,1151.5 810.0,1132.3 812.0,1142.7 814.0,1153.2 816.0,1129.4 818.0,1134.4 820.0,1171.4 822.0,1137.3 824.0,1141.8 826.0,1148.1 828.0,1137.5 830.0,1138.9 832.0,1141.5 834.0,1142.2 836.0,1141.1 838.0,1146.9 840.0,1157.6 842.0,1148.2 844.0,1157.8 846.0,1151.2 848.0,1151.9 850.0,1150.1 852.0,1143.5 854.0,1148.9 856.0,1148.1 858.0,1137.5 860.0,1151.5 862.0,1150.2 864.0,1148.7 866.0,1141.7 868.0,1126.2 870.0,1157.0 872.0,1145.5 874.0,1129.7 876.0,1156.8 878.0,1140.9 880.0,1151.3 882.0,1145.4 884.0,1164.9 886.0,1150.1 888.0,1148.4 890.0,1147.4 892.0,1155.6 894.0,1136.6 896.0,1155.2 898.0,1151.6 900.0,1142.3 902.0,1146.5 904.0,1143.2 906.0,1147.0 908.0,1153.6 910.0,1141.5 912.0,1152.2 914.0,1153.7 916.0,1151.5 918.0,1158.5 920.0,1146.2 922.0,1152.0 924.0,1165.4 926.0,1147.1 928.0,1145.8 930.0,1147.0 932.0,1151.4 934.0,1142.3 936.0,1145.2 938.0,1133.9 940.0,1139.2 942.0,1139.4 944.0,1138.4 946.0,1143.8 948.0,1152.4 950.0,1144.4 952.0,1125.4 954.0,1149.1 956.0,1148.6 958.0,1136.8 960.0,1148.5 962.0,1129.7 964.0,1142.7 966.0,1141.9 968.0,1153.7 970.0,1141.3 972.0,1145.2 974.0,1149.0 976.0,1155.4 978.0,1156.5 980.0,1140.0 982.0,1167.3 984.0,1150.0 986.0,1156.7 988.0,1165.2 990.0,1143.8 992.0,1148.2 994.0,1145.7 996.0,1150.7 998.0,1160.4 1000.0,1148.4 1002.0,1143.0 1004.0,1166.9 1006.0,1140.5 1008.0,1147.9 1010.0,1147.7 1012.0,1138.3 1014.0,1153.7 1016.0,1155.7 1018.0,1147.1 1020.0,1148.1 1022.0,1146.4 1024.0,1134.4 1026.0,1149.4 1028.0,1138.3 1030.0,1140.4 1032.0,1150.5 1034.0,1154.4 1036.0,1141.0 1038.0,1156.0 1040.0,1160.7 1042.0,1148.7 1044.0,1146.8 1046.0,1148.8 1048.0,1140.7 1050.0,1140.9 1052.0,1152.1 1054.0,1152.6 1056.0,1143.4 1058.0,1140.5 1060.0,1142.5 1062.0,1141.8 1064.0,1139.8 1066.0,1135.7 1068.0,1153.8 1070.0,1144.3 1072.0,1147.5 1074.0,1160.3 1076.0,1143.2 1078.0,1151.2 1080.0,1136.7 1082.0,1142.1 1084.0,1151.9 1086.0,1144.8 1088.0,1136.0 1090.0,1135.2 1092.0,1152.1 1094.0,1139.6 1096.0,1151.6 1098.0,1148.5 1100.0,1144.1 1102.0,1145.9 1104.0,1152.0 1106.0,1146.6 1108.0,1139.3 1110.0,1148.8 1112.0,1143.6 1114.0,1144.5 1116.0,1150.4 1118.0,1148.6 1120.0,1153.7 1122.0,1144.7 1124.0,1142.7 1126.0,1143.5 1128.0,1148.8 1130.0,1140.0 1132.0,1143.3 1134.0,1139.7 1136.0,1140.2 1138.0,1144.6 1140.0,1163.7 1142.0,1143.0 1144.0,1149.9 1146.0,1146.5 1148.0,1144.5 1150.0,1145.9 1152.0,1160.1 1154.0,1143.7 1156.0,1157.4 1158.0,1150.4 1160.0,1139.2 1162.0,1135.1 1164.0,1138.1 1166.0,1137.5 1168.0,1153.9 1170.0,1148.5 1172.0,1149.3 1174.0,1137.9 1176.0,1148.8 1178.0,1141.4 1180.0,1163.1 1182.0,1144.6 1184.0,1147.3 1186.0,1148.2 1188.0,1141.7 1190.0,1142.3 1192.0,1142.2 1194.0,1151.3 1196.0,1139.7 1198.0,1143.9 1200.0,1147.4 1202.0,1142.0 1204.0,1135.0 1206.0,1136.2 1208.0,1141.9 1210.0,1137.9 1212.0,1151.9 1214.0,1145.0 1216.0,1144.7 1218.0,1137.5 1220.0,1148.7 1222.0,1142.2 1224.0,1137.9 1226.0,1140.1 1228.0,1162.1 1230.0,1140.3 1232.0,1138.4 1234.0,1153.1 1236.0,1150.1 1238.0,1142.6 1240.0,1154.7 1242.0,1121.1 1244.0,1136.9 1246.0,1132.7 1248.0,1154.5 1250.0,1144.9 1252.0,1185.9 1254.0,1151.8 1256.0,1148.0 1258.0,1136.3 1260.0,1135.9 1262.0,1140.9 1264.0,1150.9 1266.0,1136.7 1268.0,1126.9 1270.0,1150.4 1272.0,1150.8 1274.0,1137.4 1276.0,1147.3 1278.0,1152.2 1280.0,1162.2 1282.0,1132.5 1284.0,1144.4 1286.0,1138.2 1288.0,1150.8 1290.0,1144.5 1292.0,1135.0 1294.0,1144.5 1296.0,1148.0 1298.0,1132.3 1300.0,1133.7 1302.0,1138.6 1304.0,1141.3 1306.0,1139.4 1308.0,1130.1 1310.0,1132.0 1312.0,1143.1 1314.0,1146.4 1316.0,1128.1 1318.0,1144.6 1320.0,1157.2 1322.0,1141.9 1324.0,1140.2 1326.0,1138.3 1328.0,1146.9 1330.0,1145.1 1332.0,1145.3 1334.0,1140.7 1336.0,1146.5 1338.0,1149.5 1340.0,1142.5 1342.0,1152.0 1344.0,1132.2 1346.0,1148.8 1348.0,1142.7 1350.0,1149.8 1352.0,1157.6 1354.0,1144.0" stroke="#D95319"/>
<polyline points="276.5,1010.9 278.5,1008.5 280.5,1004.6 282.4,1002.0 284.4,1001.1 286.4,1000.0 288.2,1005.2 290.0,1007.7 291.8,1010.0 293.6,1012.7 295.4,1010.6 297.2,1009.8 299.1,1003.4 300.9,1001.4 302.7,998.2 304.5,997.6 306.3,1006.8 308.2,1002.6 310.0,1000.9 311.8,1007.3 313.6,1000.5 315.4,996.6 317.3,995.2 319.1,991.3 320.9,985.5 322.7,982.0 324.5,980.5 326.4,984.1 328.2,981.1 330.0,981.8 331.8,979.3 333.6,979.0 335.5,970.4 337.3,976.7 339.1,976.4 340.9,981.6 342.7,983.0 344.5,978.2 346.4,969.3 348.2,963.6 350.3,962.6 352.4,956.9 354.5,955.4 356.7,949.7 358.8,951.1 360.9,949.1 362.7,942.6 364.5,946.9 366.4,943.7 368.2,941.8 370.0,936.3 371.9,934.0 373.7,934.6 375.5,927.3 377.3,922.6 379.1,918.6 380.9,918.5 382.7,910.9 384.5,909.1 386.4,905.8 388.2,900.0 390.0,893.2 391.8,884.1 393.7,876.0 395.5,868.0 397.3,860.0 399.5,853.5 401.7,846.9 403.8,840.4 406.0,833.8 408.2,827.3 410.1,818.2 412.1,809.1 414.0,800.0 416.5,788.2 419.0,776.4 420.5,775.7 422.0,775.0 423.5,776.5 425.0,778.0 427.0,790.0 429.5,805.0 432.0,820.0 434.5,845.0 437.0,870.0 439.0,900.0 441.0,930.0 443.0,960.0 445.0,990.0 446.5,1010.0 448.0,1030.0 450.0,1047.5 452.0,1065.0 455.4,1074.0 457.0,1076.8 458.6,1083.6 461.4,1086.1 464.2,1090.0 466.6,1096.2 469.0,1097.2 471.4,1098.0 473.8,1098.0 475.4,1100.6 477.0,1099.6 478.6,1101.6 480.2,1101.2 481.8,1099.9 483.4,1101.2 485.0,1103.1 486.6,1102.8 488.2,1096.6 489.8,1091.6 491.4,1088.2 493.0,1086.0 495.4,1096.4 497.8,1099.6 499.4,1099.8 501.0,1099.6 502.6,1102.1 504.2,1110.8 505.8,1116.0 507.4,1116.4 509.0,1109.1 510.6,1104.4 512.2,1109.6 513.8,1110.8 515.4,1112.7 517.0,1114.0 518.6,1115.5 520.2,1110.8 521.8,1106.3 523.4,1104.4 525.8,1116.4 527.4,1116.2 529.0,1117.2 531.0,1121.9 533.0,1125.2 534.6,1116.0 536.2,1115.6 537.8,1118.9 539.4,1118.8 541.0,1117.5 542.6,1110.0 544.2,1113.1 545.8,1111.6 547.4,1113.5 549.0,1112.4 550.6,1108.9 552.2,1106.0 554.2,1113.0 556.1,1114.9 559.0,1113.6 561.8,1108.0 564.1,1109.9 566.4,1110.3 568.7,1106.9 571.0,1103.4 573.3,1106.1 575.6,1110.3 579.0,1113.0 582.4,1120.6 585.3,1115.0 588.2,1104.5 589.9,1084.7 591.6,1073.6 593.9,1087.8 596.2,1103.4 597.9,1099.1 599.6,1094.2 601.9,1090.8 604.2,1083.9 606.5,1085.7 608.8,1080.5 611.1,1081.3 613.4,1078.2 615.7,1075.3 618.0,1073.6 619.7,1070.5 621.4,1064.4 623.7,1067.8 626.0,1103.4 628.3,1103.2 630.6,1108.0 632.9,1124.0 635.2,1126.9 637.5,1124.0 640.4,1128.3 643.2,1133.2 646.0,1126.1 648.9,1121.7 651.2,1127.3 653.5,1135.5 656.4,1137.1 659.3,1138.9 661.6,1141.0 663.9,1144.7 666.1,1144.7 668.4,1135.5 671.3,1132.9 674.2,1133.2 677.7,1121.8 681.1,1110.3 683.4,1116.1 685.6,1121.7 687.4,1130.4 689.1,1138.9 691.4,1141.9 693.7,1144.7 696.9,1140.8 700.0,1138.9 702.0,1142.5 704.0,1140.3 706.0,1138.6 708.0,1122.0 710.0,1143.0 712.0,1105.0 714.0,1147.3 716.0,1145.3 718.0,1147.4 720.0,1147.7 722.0,1144.1 724.0,1138.2 726.0,1140.2 728.0,1167.8 730.0,1133.6 732.0,1141.9 734.0,1138.5 736.0,1140.4 738.0,1142.4 740.0,1146.9 742.0,1142.8 744.0,1142.3 746.0,1140.4 748.0,1145.6 750.0,1134.9 752.0,1145.3 754.0,1154.8 756.0,1139.2 758.0,1144.6 760.0,1166.1 762.0,1137.5 764.0,1132.7 766.0,1141.7 768.0,1158.4 770.0,1160.1 772.0,1135.8 774.0,1149.1 776.0,1144.9 778.0,1135.1 780.0,1130.3 782.0,1152.5 784.0,1138.4 786.0,1147.1 788.0,1145.4 790.0,1158.8 792.0,1153.6 794.0,1125.7 796.0,1142.8 798.0,1152.6 800.0,1134.8 802.0,1141.8 804.0,1146.5 806.0,1132.6 808.0,1135.5 810.0,1132.0 812.0,1146.9 814.0,1140.5 816.0,1151.7 818.0,1145.6 820.0,1149.0 822.0,1144.1 824.0,1150.3 826.0,1143.9 828.0,1137.3 830.0,1153.5 832.0,1152.0 834.0,1161.6 836.0,1143.6 838.0,1140.3 840.0,1133.8 842.0,1115.7 844.0,1134.8 846.0,1148.2 848.0,1130.0 850.0,1125.1 852.0,1154.6 854.0,1140.1 856.0,1141.8 858.0,1141.3 860.0,1143.5 862.0,1148.1 864.0,1131.5 866.0,1142.8 868.0,1140.7 870.0,1153.0 872.0,1136.7 874.0,1156.8 876.0,1149.0 878.0,1156.7 880.0,1139.2 882.0,1150.5 884.0,1147.2 886.0,1133.2 888.0,1142.5 890.0,1141.0 892.0,1137.2 894.0,1138.6 896.0,1133.6 898.0,1140.9 900.0,1146.9 902.0,1138.5 904.0,1132.6 906.0,1152.2 908.0,1141.6 910.0,1144.6 912.0,1142.6 914.0,1140.3 916.0,1148.8 918.0,1140.3 920.0,1144.5 922.0,1133.5 924.0,1132.0 926.0,1141.4 928.0,1158.6 930.0,1145.6 932.0,1158.8 934.0,1151.7 936.0,1147.6 938.0,1139.9 940.0,1144.1 942.0,1157.7 944.0,1153.1 946.0,1139.5 948.0,1140.7 950.0,1154.2 952.0,1140.3 954.0,1151.1 956.0,1137.3 958.0,1148.9 960.0,1155.6 962.0,1150.4 964.0,1146.0 966.0,1145.2 968.0,1143.5 970.0,1143.7 972.0,1152.9 974.0,1163.1 976.0,1147.2 978.0,1134.6 980.0,1140.2 982.0,1146.3 984.0,1144.4 986.0,1133.9 988.0,1149.0 990.0,1163.5 992.0,1134.8 994.0,1144.5 996.0,1156.2 998.0,1140.9 1000.0,1140.9 1002.0,1145.2 1004.0,1148.2 1006.0,1140.8 1008.0,1151.2 1010.0,1129.6 1012.0,1148.7 1014.0,1146.6 1016.0,1142.6 1018.0,1146.6 1020.0,1144.1 1022.0,1153.6 1024.0,1140.2 1026.0,1143.3 1028.0,1133.2 1030.0,1135.1 1032.0,1141.7 1034.0,1131.8 1036.0,1137.1 1038.0,1133.5 1040.0,1139.7 1042.0,1144.3 1044.0,1150.4 1046.0,1128.8 1048.0,1141.8 1050.0,1149.7 1052.0,1153.6 1054.0,1153.7 1056.0,1132.4 1058.0,1139.3 1060.0,1147.3 1062.0,1150.1 1064.0,1147.7 1066.0,1145.0 1068.0,1144.8 1070.0,1137.2 1072.0,1144.1 1074.0,1149.0 1076.0,1140.3 1078.0,1151.6 1080.0,1095.9 1082.0,1140.3 1084.0,1155.5 1086.0,1149.3 1088.0,1153.5 1090.0,1143.7 1092.0,1133.8 1094.0,1138.8 1096.0,1167.7 1098.0,1128.8 1100.0,1135.3 1102.0,1129.6 1104.0,1138.4 1106.0,1139.3 1108.0,1146.7 1110.0,1136.2 1112.0,1155.2 1114.0,1147.1 1116.0,1138.7 1118.0,1134.8 1120.0,1131.0 1122.0,1143.1 1124.0,1157.0 1126.0,1139.5 1128.0,1134.4 1130.0,1141.6 1132.0,1138.2 1134.0,1135.2 1136.0,1127.8 1138.0,1141.5 1140.0,1153.1 1142.0,1151.1 1144.0,1149.2 1146.0,1143.4 1148.0,1149.7 1150.0,1149.4 1152.0,1141.4 1154.0,1143.9 1156.0,1138.7 1158.0,1150.2 1160.0,1134.7 1162.0,1146.7 1164.0,1148.0 1166.0,1147.9 1168.0,1146.9 1170.0,1138.0 1172.0,1132.3 1174.0,1138.4 1176.0,1138.6 1178.0,1133.0 1180.0,1138.0 1182.0,1136.6 1184.0,1134.2 1186.0,1144.0 1188.0,1135.6 1190.0,1143.1 1192.0,1152.3 1194.0,1153.9 1196.0,1141.3 1198.0,1148.8 1200.0,1143.0 1202.0,1159.1 1204.0,1168.5 1206.0,1149.5 1208.0,1140.0 1210.0,1139.3 1212.0,1145.2 1214.0,1140.9 1216.0,1139.3 1218.0,1146.4 1220.0,1131.7 1222.0,1126.1 1224.0,1133.5 1226.0,1132.4 1228.0,1140.5 1230.0,1134.6 1232.0,1139.6 1234.0,1125.9 1236.0,1152.2 1238.0,1144.1 1240.0,1134.6 1242.0,1143.5 1244.0,1150.4 1246.0,1147.4 1248.0,1140.4 1250.0,1145.7 1252.0,1147.8 1254.0,1132.0 1256.0,1130.2 1258.0,1136.6 1260.0,1148.5 1262.0,1152.2 1264.0,1142.1 1266.0,1152.4 1268.0,1148.6 1270.0,1140.6 1272.0,1135.5 1274.0,1136.2 1276.0,1141.7 1278.0,1151.7 1280.0,1147.4 1282.0,1131.2 1284.0,1131.8 1286.0,1147.2 1288.0,1142.6 1290.0,1134.0 1292.0,1146.2 1294.0,1151.4 1296.0,1147.1 1298.0,1141.9 1300.0,1151.2 1302.0,1138.2 1304.0,1136.6 1306.0,1134.2 1308.0,1155.4 1310.0,1157.1 1312.0,1140.8 1314.0,1145.6 1316.0,1144.6 1318.0,1148.2 1320.0,1150.1 1322.0,1146.3 1324.0,1140.5 1326.0,1137.2 1328.0,1133.5 1330.0,1121.4 1332.0,1140.4 1334.0,1134.9 1336.0,1141.4 1338.0,1140.4 1340.0,1133.4 1342.0,1137.4 1344.0,1144.3 1346.0,1142.4 1348.0,1134.5 1350.0,1135.5 1352.0,1145.4 1354.0,1142.9" stroke="#EDB120"/>
<polyline points="276.5,983.6 278.5,985.1 280.5,988.0 282.5,988.6 284.5,992.7 286.3,989.1 288.1,994.1 290.0,992.4 291.8,992.8 293.6,992.7 295.4,989.4 297.2,992.7 299.1,990.0 300.9,985.5 303.1,989.1 305.3,985.8 307.4,982.5 309.6,980.3 311.8,980.0 313.6,971.9 315.5,980.5 317.3,981.5 319.1,976.4 320.9,974.3 322.7,969.9 324.5,969.1 326.3,969.3 328.1,962.9 330.0,965.4 331.8,956.2 333.6,958.2 335.4,958.3 337.2,954.3 339.1,954.7 340.9,950.6 342.7,950.9 344.5,950.8 346.3,953.0 348.2,950.0 350.0,944.8 351.8,945.5 353.6,945.1 355.4,941.1 357.3,938.1 359.1,938.8 360.9,936.4 362.7,932.3 364.5,928.3 366.4,925.6 368.2,923.6 370.0,924.9 371.9,915.1 373.7,915.5 375.5,910.9 377.3,907.5 379.1,907.5 380.9,898.7 382.7,900.0 384.5,884.0 386.3,876.2 388.1,871.5 390.0,868.9 391.8,862.5 393.6,858.2 395.7,851.2 397.9,844.3 400.0,837.3 402.1,830.3 404.3,823.4 406.4,816.4 408.3,808.5 410.2,800.7 412.1,792.9 414.0,785.0 416.5,775.2 419.0,765.5 421.5,764.0 424.0,768.0 425.5,774.0 427.0,780.0 429.5,797.5 432.0,815.0 434.5,842.5 437.0,870.0 439.0,900.0 441.0,930.0 443.0,960.0 445.0,990.0 446.5,1010.0 448.0,1030.0 450.0,1046.5 452.0,1063.0 454.5,1074.0 457.0,1085.0 461.0,1082.0 463.0,1084.6 465.0,1088.4 466.6,1090.4 468.2,1094.8 469.8,1098.2 471.4,1106.0 473.0,1101.2 474.6,1101.2 477.0,1105.2 478.6,1106.4 480.2,1104.4 481.8,1107.2 483.4,1107.6 485.0,1102.7 486.6,1102.0 488.2,1108.6 489.8,1110.8 491.4,1107.4 493.0,1106.0 494.6,1106.6 496.2,1102.8 497.8,1098.8 499.4,1099.6 501.8,1096.4 503.8,1103.7 505.8,1110.0 507.4,1107.8 509.0,1113.2 511.0,1112.1 513.0,1110.8 515.0,1105.6 517.0,1096.4 518.6,1105.0 520.2,1114.0 521.8,1110.1 523.4,1109.2 525.8,1112.4 527.4,1113.5 529.0,1110.8 531.0,1114.4 533.0,1114.0 535.0,1113.3 537.0,1110.8 538.6,1114.9 540.2,1114.0 541.8,1108.0 543.4,1102.0 545.4,1107.0 547.4,1114.0 549.4,1103.6 551.4,1092.4 554.3,1108.8 557.2,1124.0 560.0,1109.9 562.9,1101.1 565.2,1098.1 567.5,1096.5 569.2,1095.8 571.0,1098.8 572.7,1097.0 574.4,1100.0 576.7,1097.0 579.0,1101.1 581.3,1100.3 583.6,1103.4 585.9,1100.9 588.2,1093.1 590.5,1090.1 592.8,1088.5 595.0,1087.8 597.3,1094.2 599.6,1086.3 601.9,1082.8 604.2,1084.0 606.5,1079.3 608.2,1072.1 610.0,1062.1 611.7,1063.0 613.4,1064.4 615.7,1063.1 618.0,1059.8 620.3,1062.9 622.6,1067.8 624.9,1077.2 627.2,1087.3 629.5,1097.1 631.7,1103.4 634.0,1111.8 636.3,1117.2 638.6,1113.3 640.9,1110.3 643.2,1121.4 645.5,1130.9 647.8,1125.7 650.1,1121.7 652.4,1124.5 654.7,1127.5 657.0,1130.3 659.3,1133.2 661.6,1139.5 663.9,1140.1 666.1,1133.4 668.4,1127.5 670.7,1132.2 673.0,1133.2 675.9,1131.3 678.8,1127.5 681.6,1125.4 684.5,1130.9 686.8,1126.1 689.1,1121.7 691.4,1124.9 693.7,1133.2 696.9,1132.9 700.0,1130.9 702.0,1152.5 704.0,1133.1 706.0,1122.0 708.0,1129.6 710.0,1128.7 712.0,1129.8 714.0,1136.2 716.0,1122.4 718.0,1139.5 720.0,1124.0 722.0,1129.6 724.0,1139.7 726.0,1138.2 728.0,1128.3 730.0,1147.0 732.0,1136.7 734.0,1127.1 736.0,1134.8 738.0,1128.5 740.0,1138.3 742.0,1124.9 744.0,1138.6 746.0,1121.7 748.0,1143.2 750.0,1137.0 752.0,1145.2 754.0,1129.7 756.0,1119.3 758.0,1112.4 760.0,1133.2 762.0,1149.7 764.0,1139.3 766.0,1144.8 768.0,1128.4 770.0,1131.0 772.0,1132.5 774.0,1143.8 776.0,1130.8 778.0,1132.8 780.0,1147.2 782.0,1128.5 784.0,1134.8 786.0,1124.9 788.0,1133.2 790.0,1141.2 792.0,1143.9 794.0,1124.6 796.0,1116.1 798.0,1139.0 800.0,1147.5 802.0,1129.7 804.0,1137.0 806.0,1135.2 808.0,1118.8 810.0,1115.0 812.0,1133.9 814.0,1138.6 816.0,1123.6 818.0,1132.5 820.0,1129.1 822.0,1127.8 824.0,1125.3 826.0,1143.8 828.0,1135.1 830.0,1133.2 832.0,1126.9 834.0,1137.8 836.0,1131.1 838.0,1136.1 840.0,1129.1 842.0,1137.5 844.0,1132.5 846.0,1139.0 848.0,1123.0 850.0,1128.8 852.0,1125.4 854.0,1146.4 856.0,1130.0 858.0,1134.1 860.0,1121.6 862.0,1127.3 864.0,1121.6 866.0,1133.5 868.0,1127.1 870.0,1145.8 872.0,1127.7 874.0,1141.8 876.0,1133.2 878.0,1138.1 880.0,1127.3 882.0,1133.8 884.0,1133.0 886.0,1128.3 888.0,1138.4 890.0,1123.0 892.0,1132.9 894.0,1132.7 896.0,1134.9 898.0,1114.2 900.0,1139.2 902.0,1127.5 904.0,1129.7 906.0,1127.0 908.0,1131.3 910.0,1137.1 912.0,1156.0 914.0,1114.4 916.0,1141.1 918.0,1140.9 920.0,1145.4 922.0,1136.3 924.0,1137.9 926.0,1147.9 928.0,1135.2 930.0,1135.9 932.0,1134.5 934.0,1137.9 936.0,1147.9 938.0,1127.9 940.0,1143.4 942.0,1117.2 944.0,1138.1 946.0,1131.4 948.0,1144.2 950.0,1140.7 952.0,1140.5 954.0,1143.5 956.0,1139.6 958.0,1119.3 960.0,1136.8 962.0,1124.3 964.0,1142.4 966.0,1129.5 968.0,1134.5 970.0,1130.7 972.0,1135.0 974.0,1135.8 976.0,1138.2 978.0,1125.0 980.0,1146.0 982.0,1126.2 984.0,1132.9 986.0,1114.0 988.0,1136.4 990.0,1141.5 992.0,1143.2 994.0,1141.7 996.0,1141.1 998.0,1122.2 1000.0,1131.1 1002.0,1132.6 1004.0,1135.1 1006.0,1125.8 1008.0,1131.1 1010.0,1137.7 1012.0,1134.9 1014.0,1132.7 1016.0,1127.5 1018.0,1135.7 1020.0,1134.8 1022.0,1144.5 1024.0,1133.4 1026.0,1148.4 1028.0,1123.3 1030.0,1146.4 1032.0,1122.7 1034.0,1132.3 1036.0,1130.0 1038.0,1128.2 1040.0,1130.1 1042.0,1128.4 1044.0,1133.1 1046.0,1134.2 1048.0,1140.7 1050.0,1141.4 1052.0,1145.2 1054.0,1135.5 1056.0,1125.9 1058.0,1149.3 1060.0,1136.0 1062.0,1112.8 1064.0,1137.4 1066.0,1130.6 1068.0,1126.2 1070.0,1127.0 1072.0,1131.8 1074.0,1125.2 1076.0,1133.1 1078.0,1127.1 1080.0,1126.9 1082.0,1134.5 1084.0,1133.5 1086.0,1143.0 1088.0,1134.5 1090.0,1123.7 1092.0,1131.0 1094.0,1143.6 1096.0,1143.6 1098.0,1124.7 1100.0,1140.8 1102.0,1127.1 1104.0,1128.5 1106.0,1118.9 1108.0,1118.2 1110.0,1128.1 1112.0,1132.1 1114.0,1133.9 1116.0,1123.6 1118.0,1128.2 1120.0,1130.8 1122.0,1128.6 1124.0,1108.9 1126.0,1121.8 1128.0,1130.3 1130.0,1137.9 1132.0,1113.1 1134.0,1137.0 1136.0,1107.0 1138.0,1138.6 1140.0,1123.7 1142.0,1129.0 1144.0,1121.8 1146.0,1119.8 1148.0,1126.3 1150.0,1129.0 1152.0,1120.0 1154.0,1140.2 1156.0,1125.2 1158.0,1129.0 1160.0,1122.8 1162.0,1123.2 1164.0,1127.8 1166.0,1117.7 1168.0,1133.0 1170.0,1118.1 1172.0,1130.8 1174.0,1119.1 1176.0,1125.9 1178.0,1122.1 1180.0,1136.5 1182.0,1140.2 1184.0,1124.0 1186.0,1130.6 1188.0,1128.9 1190.0,1132.7 1192.0,1142.9 1194.0,1140.7 1196.0,1127.6 1198.0,1113.4 1200.0,1132.1 1202.0,1124.0 1204.0,1123.1 1206.0,1136.2 1208.0,1151.3 1210.0,1127.4 1212.0,1136.4 1214.0,1130.3 1216.0,1139.3 1218.0,1126.1 1220.0,1137.2 1222.0,1122.5 1224.0,1127.5 1226.0,1134.0 1228.0,1110.0 1230.0,1129.8 1232.0,1130.4 1234.0,1133.1 1236.0,1140.0 1238.0,1111.1 1240.0,1134.2 1242.0,1129.6 1244.0,1135.7 1246.0,1132.1 1248.0,1122.0 1250.0,1122.7 1252.0,1119.4 1254.0,1136.1 1256.0,1122.1 1258.0,1129.2 1260.0,1121.8 1262.0,1111.3 1264.0,1120.0 1266.0,1125.3 1268.0,1137.5 1270.0,1124.9 1272.0,1118.0 1274.0,1122.4 1276.0,1132.7 1278.0,1131.0 1280.0,1130.7 1282.0,1131.7 1284.0,1120.5 1286.0,1133.5 1288.0,1129.2 1290.0,1110.9 1292.0,1122.0 1294.0,1136.4 1296.0,1122.5 1298.0,1123.8 1300.0,1126.9 1302.0,1128.3 1304.0,1126.5 1306.0,1130.9 1308.0,1121.0 1310.0,1115.6 1312.0,1126.6 1314.0,1126.2 1316.0,1134.1 1318.0,1142.5 1320.0,1130.6 1322.0,1133.5 1324.0,1139.8 1326.0,1133.1 1328.0,1132.2 1330.0,1120.1 1332.0,1124.0 1334.0,1121.2 1336.0,1124.3 1338.0,1134.8 1340.0,1132.1 1342.0,1127.1 1344.0,1110.6 1346.0,1131.3 1348.0,1131.0 1350.0,1118.1 1352.0,1127.4 1354.0,1124.6" stroke="#7E2F8E"/>
<polyline points="276.5,969.1 278.7,971.2 280.9,965.5 282.7,968.2 284.5,977.3 286.3,972.5 288.1,973.8 290.0,975.2 291.8,976.2 293.6,974.5 295.8,970.1 298.0,973.6 300.1,962.5 302.3,960.1 304.5,958.2 306.4,961.7 308.2,968.2 310.4,970.3 312.6,969.6 314.7,964.6 316.9,972.4 319.1,970.0 320.9,960.1 322.7,952.9 324.5,945.5 326.3,949.1 328.1,940.7 330.0,935.5 331.8,934.5 334.0,927.3 336.2,931.6 338.3,937.8 340.5,935.4 342.7,934.5 344.5,932.0 346.4,935.9 348.2,935.7 350.0,936.4 351.8,925.0 353.6,916.4 355.8,914.5 358.0,911.6 360.1,906.6 362.3,910.1 364.5,905.5 366.3,898.1 368.1,903.9 370.0,904.7 371.8,900.0 373.6,892.2 375.5,888.4 377.3,876.4 379.1,872.0 380.9,861.2 382.8,860.8 384.6,853.9 386.4,850.9 388.2,846.4 390.0,846.0 391.9,844.6 393.7,837.8 395.5,834.5 397.7,827.6 399.9,820.7 402.0,813.8 404.2,806.9 406.4,800.0 408.3,791.7 410.1,783.3 412.0,775.0 413.8,767.1 415.5,759.3 417.2,751.5 419.0,743.6 421.5,741.5 424.0,748.0 426.1,760.4 428.2,772.7 430.0,790.9 431.8,809.1 433.6,827.3 435.3,853.6 437.0,880.0 438.9,912.8 440.9,945.5 442.7,972.7 444.5,990.9 446.4,1009.1 448.2,1027.3 450.1,1042.7 452.0,1058.0 457.0,1070.0 459.0,1070.2 461.0,1080.4 463.8,1068.6 466.6,1067.6 468.2,1075.2 469.8,1083.6 471.8,1086.8 473.8,1091.6 475.4,1086.7 477.0,1085.2 478.6,1088.9 480.2,1094.8 482.6,1085.0 485.0,1077.2 486.6,1080.8 488.2,1090.0 490.6,1092.0 493.0,1098.0 494.6,1101.9 496.2,1110.0 497.8,1104.1 499.4,1106.0 501.0,1099.8 502.6,1099.6 504.6,1094.5 506.6,1094.8 508.6,1093.8 510.6,1091.6 512.2,1091.8 513.8,1093.2 515.4,1091.6 517.0,1088.4 519.4,1092.1 521.8,1096.4 523.4,1100.5 525.0,1104.4 527.4,1107.6 529.0,1100.6 530.6,1092.4 532.2,1098.5 533.8,1105.2 535.4,1102.3 537.0,1099.6 539.4,1107.6 541.4,1094.8 543.4,1076.4 545.0,1083.1 546.6,1091.6 548.2,1084.3 549.8,1082.0 551.8,1079.8 553.8,1074.7 556.6,1088.1 559.5,1103.4 562.1,1089.3 564.7,1073.6 567.2,1080.2 569.8,1094.2 572.1,1085.4 574.4,1081.6 576.1,1086.2 577.8,1087.3 580.1,1090.4 582.4,1094.2 584.1,1084.3 585.9,1079.3 588.2,1077.3 590.5,1073.6 592.2,1076.3 593.9,1079.3 596.8,1073.0 599.6,1067.8 601.9,1068.4 604.2,1062.1 606.0,1051.7 607.7,1047.2 609.4,1055.5 611.1,1063.3 613.4,1059.8 615.7,1052.9 618.0,1067.7 620.3,1080.5 622.6,1077.6 624.9,1078.2 627.1,1089.9 629.4,1098.8 632.3,1098.3 635.2,1104.5 638.0,1107.0 640.9,1110.3 642.6,1124.8 644.4,1135.5 646.6,1116.5 648.9,1095.4 651.2,1108.4 653.5,1119.4 655.8,1113.1 658.1,1109.1 661.0,1114.3 663.9,1125.2 666.8,1120.9 669.6,1110.3 671.9,1115.6 674.2,1121.7 676.5,1116.3 678.8,1112.6 681.0,1114.5 683.3,1110.3 686.2,1124.4 689.1,1133.2 692.0,1127.3 694.8,1119.4 697.4,1117.0 700.0,1114.9 702.0,1121.1 704.0,1118.8 706.0,1110.4 708.0,1102.5 710.0,1120.1 712.0,1127.4 714.0,1128.6 716.0,1117.2 718.0,1138.3 720.0,1136.6 722.0,1120.7 724.0,1121.6 726.0,1130.4 728.0,1121.7 730.0,1125.7 732.0,1133.5 734.0,1133.7 736.0,1116.5 738.0,1118.1 740.0,1121.9 742.0,1125.8 744.0,1126.6 746.0,1123.1 748.0,1131.8 750.0,1126.4 752.0,1126.1 754.0,1111.2 756.0,1115.6 758.0,1120.8 760.0,1128.7 762.0,1119.5 764.0,1137.7 766.0,1127.1 768.0,1127.9 770.0,1126.9 772.0,1129.7 774.0,1132.9 776.0,1121.9 778.0,1137.8 780.0,1120.2 782.0,1129.9 784.0,1124.5 786.0,1124.8 788.0,1131.0 790.0,1127.5 792.0,1138.1 794.0,1122.2 796.0,1134.5 798.0,1130.4 800.0,1141.8 802.0,1138.1 804.0,1131.3 806.0,1138.5 808.0,1132.4 810.0,1120.1 812.0,1128.5 814.0,1135.2 816.0,1122.1 818.0,1137.4 820.0,1128.7 822.0,1121.3 824.0,1129.5 826.0,1114.2 828.0,1120.8 830.0,1118.2 832.0,1129.7 834.0,1118.3 836.0,1100.2 838.0,1128.3 840.0,1122.4 842.0,1120.6 844.0,1121.5 846.0,1133.8 848.0,1128.8 850.0,1113.6 852.0,1147.0 854.0,1129.7 856.0,1140.4 858.0,1143.4 860.0,1136.2 862.0,1119.4 864.0,1121.7 866.0,1130.8 868.0,1125.4 870.0,1126.6 872.0,1134.2 874.0,1108.7 876.0,1123.5 878.0,1137.5 880.0,1122.5 882.0,1126.7 884.0,1128.9 886.0,1131.3 888.0,1128.4 890.0,1119.0 892.0,1128.5 894.0,1121.5 896.0,1137.8 898.0,1121.3 900.0,1130.2 902.0,1124.5 904.0,1134.4 906.0,1126.8 908.0,1131.2 910.0,1121.7 912.0,1123.0 914.0,1118.8 916.0,1123.0 918.0,1123.7 920.0,1117.3 922.0,1116.4 924.0,1127.0 926.0,1124.5 928.0,1120.4 930.0,1118.8 932.0,1117.4 934.0,1126.4 936.0,1121.6 938.0,1120.8 940.0,1121.4 942.0,1117.8 944.0,1123.2 946.0,1126.2 948.0,1112.3 950.0,1123.5 952.0,1105.6 954.0,1122.7 956.0,1134.8 958.0,1111.1 960.0,1115.7 962.0,1121.5 964.0,1108.1 966.0,1143.2 968.0,1120.6 970.0,1137.4 972.0,1124.6 974.0,1134.1 976.0,1131.3 978.0,1122.9 980.0,1128.9 982.0,1120.2 984.0,1121.5 986.0,1136.3 988.0,1118.6 990.0,1118.2 992.0,1144.2 994.0,1118.7 996.0,1127.3 998.0,1137.3 1000.0,1116.9 1002.0,1120.8 1004.0,1138.7 1006.0,1124.8 1008.0,1126.9 1010.0,1122.4 1012.0,1128.9 1014.0,1112.9 1016.0,1126.1 1018.0,1132.3 1020.0,1132.0 1022.0,1120.9 1024.0,1129.5 1026.0,1140.8 1028.0,1125.6 1030.0,1129.8 1032.0,1122.0 1034.0,1111.7 1036.0,1130.2 1038.0,1117.5 1040.0,1113.1 1042.0,1125.0 1044.0,1124.4 1046.0,1123.6 1048.0,1132.9 1050.0,1125.5 1052.0,1124.8 1054.0,1116.4 1056.0,1131.3 1058.0,1114.8 1060.0,1107.4 1062.0,1118.3 1064.0,1129.6 1066.0,1127.0 1068.0,1133.9 1070.0,1127.3 1072.0,1127.1 1074.0,1126.7 1076.0,1119.4 1078.0,1120.8 1080.0,1120.8 1082.0,1125.6 1084.0,1117.2 1086.0,1121.0 1088.0,1126.2 1090.0,1123.5 1092.0,1122.0 1094.0,1122.5 1096.0,1114.8 1098.0,1101.6 1100.0,1118.0 1102.0,1131.1 1104.0,1129.8 1106.0,1126.0 1108.0,1128.6 1110.0,1129.8 1112.0,1106.1 1114.0,1119.7 1116.0,1130.1 1118.0,1137.0 1120.0,1125.2 1122.0,1136.7 1124.0,1132.5 1126.0,1124.8 1128.0,1115.9 1130.0,1116.2 1132.0,1123.3 1134.0,1125.2 1136.0,1123.2 1138.0,1128.3 1140.0,1127.9 1142.0,1124.0 1144.0,1126.9 1146.0,1128.5 1148.0,1109.5 1150.0,1114.0 1152.0,1125.9 1154.0,1129.3 1156.0,1124.2 1158.0,1121.3 1160.0,1125.1 1162.0,1126.9 1164.0,1124.8 1166.0,1108.6 1168.0,1125.8 1170.0,1128.9 1172.0,1124.3 1174.0,1139.9 1176.0,1112.7 1178.0,1109.8 1180.0,1148.6 1182.0,1115.8 1184.0,1105.0 1186.0,1119.0 1188.0,1129.5 1190.0,1117.9 1192.0,1120.1 1194.0,1135.5 1196.0,1137.8 1198.0,1128.9 1200.0,1125.5 1202.0,1115.9 1204.0,1128.8 1206.0,1144.1 1208.0,1114.6 1210.0,1105.4 1212.0,1120.3 1214.0,1128.4 1216.0,1127.7 1218.0,1121.4 1220.0,1119.5 1222.0,1133.2 1224.0,1126.4 1226.0,1132.9 1228.0,1121.2 1230.0,1131.5 1232.0,1116.6 1234.0,1138.3 1236.0,1119.9 1238.0,1120.2 1240.0,1126.1 1242.0,1121.4 1244.0,1118.3 1246.0,1126.2 1248.0,1117.9 1250.0,1137.2 1252.0,1117.5 1254.0,1128.9 1256.0,1117.1 1258.0,1109.6 1260.0,1105.2 1262.0,1123.0 1264.0,1112.0 1266.0,1123.7 1268.0,1116.5 1270.0,1121.9 1272.0,1122.4 1274.0,1135.9 1276.0,1121.1 1278.0,1112.1 1280.0,1105.0 1282.0,1137.3 1284.0,1123.2 1286.0,1146.0 1288.0,1110.4 1290.0,1121.0 1292.0,1116.2 1294.0,1126.1 1296.0,1119.9 1298.0,1132.9 1300.0,1119.1 1302.0,1120.7 1304.0,1117.5 1306.0,1125.8 1308.0,1130.5 1310.0,1126.3 1312.0,1117.6 1314.0,1114.3 1316.0,1115.4 1318.0,1123.6 1320.0,1118.4 1322.0,1120.9 1324.0,1130.6 1326.0,1125.7 1328.0,1123.8 1330.0,1118.4 1332.0,1120.6 1334.0,1119.8 1336.0,1122.4 1338.0,1118.6 1340.0,1123.3 1342.0,1114.5 1344.0,1126.2 1346.0,1116.6 1348.0,1113.3 1350.0,1115.0 1352.0,1097.5 1354.0,1093.8" stroke="#77AC30"/>
</g>
<g fill="none" stroke="#262626" stroke-width="2.2">
<path d="M276.5,705.5V1215.5H1355.5V705.5"/>
<path d="M275.5,705.5H1356.5" stroke="#8a8a8a" stroke-width="2"/>
<path d="M356.4,1215.5V1204.0M356.4,705.5V717.0M556.2,1215.5V1204.0M556.2,705.5V717.0M756.1,1215.5V1204.0M756.1,705.5V717.0M955.9,1215.5V1204.0M955.9,705.5V717.0M1155.7,1215.5V1204.0M1155.7,705.5V717.0M1355.5,1215.5V1204.0M1355.5,705.5V717.0M276.5,1060.5H287.5M1355.5,1060.5H1344.5M276.5,1177.9H282.5M1355.5,1177.9H1349.5M276.5,1147.0H282.5M1355.5,1147.0H1349.5M276.5,1120.9H282.5M1355.5,1120.9H1349.5M276.5,1098.3H282.5M1355.5,1098.3H1349.5M276.5,1078.3H282.5M1355.5,1078.3H1349.5M276.5,943.1H282.5M1355.5,943.1H1349.5M276.5,874.4H282.5M1355.5,874.4H1349.5M276.5,825.7H282.5M1355.5,825.7H1349.5M276.5,787.9H282.5M1355.5,787.9H1349.5M276.5,757.0H282.5M1355.5,757.0H1349.5M276.5,730.9H282.5M1355.5,730.9H1349.5M276.5,708.3H282.5M1355.5,708.3H1349.5"/>
</g>
<g class="t" font-size="42">
<text x="188.5" y="1083.5">10</text>
<text x="232" y="1063" font-size="33">-4</text>
</g>
<g class="t" font-size="42" text-anchor="middle">
<text x="356.4" y="1272.5">0.5</text>
<text x="556.2" y="1272.5">1</text>
<text x="756.1" y="1272.5">1.5</text>
<text x="955.9" y="1272.5">2</text>
<text x="1155.7" y="1272.5">2.5</text>
<text x="1355.5" y="1272.5">3</text>
</g>
<text class="s" font-size="63" x="733.2" y="1340.9">q</text>
<path d="M795.4,1293.1L771.9,1355.7" stroke="#262626" stroke-width="3.1"/>
<text class="s" font-size="63" x="800.2" y="1340.9" textLength="90" lengthAdjust="spacingAndGlyphs">nm</text>
<rect x="893.8" y="1304.4" width="28.4" height="2.6" fill="#262626"/>
<text class="s s1" font-size="44" x="925" y="1317.6">1</text>
<g transform="translate(160.3,0) rotate(-90)"><text class="s" font-size="64" text-anchor="middle" transform="translate(-1099.1,0) scale(1.12,1.0)">I</text><text class="s" font-size="64" text-anchor="middle" transform="translate(-1074.7,0) scale(1.0,1.08)">(</text><text class="s" font-size="59" text-anchor="middle" transform="translate(-1046.4,0) scale(1.0,1.0)">q</text><text class="s" font-size="64" text-anchor="middle" transform="translate(-1019.4,0) scale(1.0,1.08)">)</text><text class="s" font-size="59" text-anchor="middle" transform="translate(-960.0,0) scale(1.0,1.0)">a</text><text class="s" font-size="59" text-anchor="middle" transform="translate(-935.1,0) scale(1.0,1.0)">.</text><text class="s" font-size="59" text-anchor="middle" transform="translate(-907.8,0) scale(1.0,1.0)">u</text><text class="s" font-size="59" text-anchor="middle" transform="translate(-882.3,0) scale(1.0,1.0)">.</text></g><path d="M175.3,1001.6L113.4,979.1" stroke="#262626" stroke-width="2.6"/>
<text class="p" font-size="48" x="35" y="988.2" stroke="#000" stroke-width="0.5">b)</text>
<!-- legend b -->
<rect x="1027.3" y="719" width="312.3" height="254.8" fill="#fff" stroke="#262626" stroke-width="2.4"/>
<path d="M1037.5,747.1H1132.6" stroke="#0072BD" stroke-width="2.8"/>
<text class="t" font-size="29" x="1140" y="753.3"><tspan font-family="Liberation Serif" font-style="italic" font-size="28" stroke="#fff" stroke-width="0.4">&#948;</tspan> 55; 0%<tspan font-size="23" dy="13">w</tspan><tspan dy="-13"> TO</tspan></text>
<path d="M1037.5,797.1H1132.6" stroke="#D95319" stroke-width="2.8"/>
<text class="t" font-size="29" x="1140" y="803.3"><tspan font-family="Liberation Serif" font-style="italic" font-size="28" stroke="#fff" stroke-width="0.4">&#948;</tspan> 55; 5%<tspan font-size="23" dy="13">w</tspan><tspan dy="-13"> TO</tspan></text>
<path d="M1037.5,846.7H1132.6" stroke="#EDB120" stroke-width="2.8"/>
<text class="t" font-size="29" x="1140" y="852.9"><tspan font-family="Liberation Serif" font-style="italic" font-size="28" stroke="#fff" stroke-width="0.4">&#948;</tspan> 55; 10%<tspan font-size="23" dy="13">w</tspan><tspan dy="-13"> TO</tspan></text>
<path d="M1037.5,896.4H1132.6" stroke="#7E2F8E" stroke-width="2.8"/>
<text class="t" font-size="29" x="1140" y="902.6"><tspan font-family="Liberation Serif" font-style="italic" font-size="28" stroke="#fff" stroke-width="0.4">&#948;</tspan> 55; 15%<tspan font-size="23" dy="13">w</tspan><tspan dy="-13"> TO</tspan></text>
<path d="M1037.5,945.4H1132.6" stroke="#77AC30" stroke-width="2.8"/>
<text class="t" font-size="29" x="1140" y="951.6"><tspan font-family="Liberation Serif" font-style="italic" font-size="28" stroke="#fff" stroke-width="0.4">&#948;</tspan> 55; 20%<tspan font-size="23" dy="13">w</tspan><tspan dy="-13"> TO</tspan></text>
<path d="M810.3,964.6 L914.3,898.6 A10.3,18.8 -32.4 0 0 894.1,866.8 L790.1,932.8 A18.8,18.8 0 0 0 810.3,964.6Z" fill="#1A8FF0"/><path d="M790.1,932.8L894.1,866.8" stroke="#16305e" stroke-width="1.1" fill="none"/><path d="M785.2,917.4 L889.2,851.4 A10.3,18.8 -32.4 0 0 869.0,819.6 L765.0,885.6 A18.8,18.8 0 0 0 785.2,917.4Z" fill="#1A8FF0"/><path d="M765.0,885.6L869.0,819.6" stroke="#16305e" stroke-width="1.1" fill="none"/><path d="M865.5,965.6 L980.0,897.1 A10.3,18.8 -32.4 0 0 959.8,865.3 L845.3,933.8 A18.8,18.8 0 0 0 865.5,965.6Z" fill="#1A8FF0"/><path d="M845.3,933.8L959.8,865.3" stroke="#16305e" stroke-width="1.1" fill="none"/><path d="M840.4,916.4 L944.4,850.4 A10.3,18.8 -32.4 0 0 924.2,818.6 L820.2,884.6 A18.8,18.8 0 0 0 840.4,916.4Z" fill="#1A8FF0"/><path d="M820.2,884.6L924.2,818.6" stroke="#16305e" stroke-width="1.1" fill="none"/><path d="M814.2,869.7 L918.2,803.7 A10.3,18.8 -32.4 0 0 898.0,771.9 L794.0,837.9 A18.8,18.8 0 0 0 814.2,869.7Z" fill="#1A8FF0"/><path d="M794.0,837.9L898.0,771.9" stroke="#16305e" stroke-width="1.1" fill="none"/><path d="M893.6,916.4 L1008.1,847.9 A10.3,18.8 -32.4 0 0 987.9,816.1 L873.4,884.6 A18.8,18.8 0 0 0 893.6,916.4Z" fill="#1A8FF0"/><path d="M873.4,884.6L987.9,816.1" stroke="#16305e" stroke-width="1.1" fill="none"/><path d="M866.0,869.7 L980.5,801.2 A10.3,18.8 -32.4 0 0 960.3,769.4 L845.8,837.9 A18.8,18.8 0 0 0 866.0,869.7Z" fill="#1A8FF0"/><path d="M845.8,837.9L960.3,769.4" stroke="#16305e" stroke-width="1.1" fill="none"/><circle cx="804.1" cy="853.8" r="18.8" fill="url(#gcore)"/><path d="M809.2,856.3L812.8,866.0M806.7,858.8L803.8,868.8M804.4,859.4L797.7,867.4M799.5,857.0L789.1,855.4M798.5,853.1L791.9,845.0M799.1,851.3L795.6,841.4M801.6,848.8L804.6,838.8M806.6,848.8L816.5,845.3M809.4,851.8L819.0,855.8" stroke="#F39C12" stroke-width="2.6" stroke-linecap="round" opacity="0.6" fill="none"/><circle cx="804.1" cy="853.8" r="2.3" fill="#FFF600"/><circle cx="804.1" cy="853.8" r="18.8" fill="none" stroke="#3b2f9a" stroke-width="1.1"/><circle cx="855.9" cy="853.8" r="18.8" fill="url(#gcore)"/><path d="M861.5,854.4L868.3,862.3M858.3,858.9L855.0,868.8M854.3,859.2L845.2,864.4M851.3,857.1L841.0,855.8M850.6,855.7L841.0,851.4M851.8,850.0L851.1,839.5M854.4,848.4L859.4,839.2M859.0,849.1L869.1,846.6M860.4,850.4L870.8,851.5" stroke="#F39C12" stroke-width="2.6" stroke-linecap="round" opacity="0.6" fill="none"/><circle cx="855.9" cy="853.8" r="2.3" fill="#FFF600"/><circle cx="855.9" cy="853.8" r="18.8" fill="none" stroke="#3b2f9a" stroke-width="1.1"/><circle cx="775.1" cy="901.5" r="18.8" fill="url(#gcore)"/><path d="M780.7,902.0L787.5,910.0M778.2,906.2L776.3,916.5M773.9,907.0L765.3,912.9M771.7,906.0L761.3,907.5M769.6,902.6L760.8,896.9M770.0,899.1L766.3,889.3M774.4,895.9L780.6,887.5M777.7,896.5L787.6,893.2M779.5,897.9L789.9,898.7" stroke="#F39C12" stroke-width="2.6" stroke-linecap="round" opacity="0.6" fill="none"/><circle cx="775.1" cy="901.5" r="2.3" fill="#FFF600"/><circle cx="775.1" cy="901.5" r="18.8" fill="none" stroke="#3b2f9a" stroke-width="1.1"/><circle cx="830.3" cy="900.5" r="18.8" fill="url(#gcore)"/><path d="M835.5,902.7L839.7,912.3M833.1,905.4L830.6,915.5M830.4,906.1L823.4,913.9M825.9,904.0L815.5,903.0M824.7,901.4L816.1,895.4M825.6,897.4L823.3,887.2M830.1,894.9L837.0,887.0M832.2,895.2L841.6,890.5M835.7,898.7L845.1,903.3" stroke="#F39C12" stroke-width="2.6" stroke-linecap="round" opacity="0.6" fill="none"/><circle cx="830.3" cy="900.5" r="2.3" fill="#FFF600"/><circle cx="830.3" cy="900.5" r="18.8" fill="none" stroke="#3b2f9a" stroke-width="1.1"/><circle cx="883.5" cy="900.5" r="18.8" fill="url(#gcore)"/><path d="M888.8,902.5L893.2,912.0M887.3,904.6L887.2,915.1M883.0,906.1L875.2,913.0M880.6,905.3L870.5,908.0M877.9,900.7L870.1,893.7M878.6,897.7L875.7,887.6M882.7,894.9L888.8,886.4M886.7,895.8L896.9,893.6M888.7,898.2L898.5,901.8" stroke="#F39C12" stroke-width="2.6" stroke-linecap="round" opacity="0.6" fill="none"/><circle cx="883.5" cy="900.5" r="2.3" fill="#FFF600"/><circle cx="883.5" cy="900.5" r="18.8" fill="none" stroke="#3b2f9a" stroke-width="1.1"/><circle cx="800.2" cy="948.7" r="18.8" fill="url(#gcore)"/><path d="M805.3,951.1L809.0,960.9M804.5,952.4L805.5,962.8M801.1,954.3L795.1,962.9M795.7,952.1L785.3,950.9M794.6,948.7L787.0,941.4M795.5,945.6L793.1,935.4M798.6,943.3L803.3,934.0M802.4,943.5L812.0,939.4M805.4,946.5L815.2,950.2" stroke="#F39C12" stroke-width="2.6" stroke-linecap="round" opacity="0.6" fill="none"/><circle cx="800.2" cy="948.7" r="2.3" fill="#FFF600"/><circle cx="800.2" cy="948.7" r="18.8" fill="none" stroke="#3b2f9a" stroke-width="1.1"/><circle cx="855.4" cy="949.7" r="18.8" fill="url(#gcore)"/><path d="M860.6,951.8L864.9,961.4M858.2,954.6L855.7,964.7M855.3,955.3L847.9,962.8M851.3,953.5L840.8,953.4M849.9,950.7L841.1,945.0M851.5,945.6L851.6,935.1M854.2,944.2L859.7,935.3M857.2,944.3L866.4,939.4M860.1,946.7L870.4,948.6" stroke="#F39C12" stroke-width="2.6" stroke-linecap="round" opacity="0.6" fill="none"/><circle cx="855.4" cy="949.7" r="2.3" fill="#FFF600"/><circle cx="855.4" cy="949.7" r="18.8" fill="none" stroke="#3b2f9a" stroke-width="1.1"/><rect x="575.44" y="593.19" width="8.84" height="5.95" fill="#fff"/><rect x="588.15" y="593.19" width="8.61" height="5.95" fill="#fff"/><rect x="546.20" y="1268.09" width="8.84" height="5.95" fill="#fff"/><rect x="558.92" y="1268.09" width="8.61" height="5.95" fill="#fff"/><rect x="750.55" y="593.19" width="8.84" height="5.95" fill="#fff"/><rect x="763.27" y="593.19" width="8.61" height="5.95" fill="#fff"/><rect x="728.50" y="1268.09" width="8.84" height="5.95" fill="#fff"/><rect x="741.22" y="1268.09" width="8.61" height="5.95" fill="#fff"/><rect x="190.14" y="1079.09" width="8.84" height="5.95" fill="#fff"/><rect x="202.86" y="1079.09" width="8.61" height="5.95" fill="#fff"/><rect x="1210.58" y="849.86" width="6.10" height="4.11" fill="#fff"/><rect x="1219.36" y="849.86" width="5.95" height="4.11" fill="#fff"/><rect x="1210.58" y="899.56" width="6.10" height="4.11" fill="#fff"/><rect x="1219.36" y="899.56" width="5.95" height="4.11" fill="#fff"/>
</svg>
</body></html>
